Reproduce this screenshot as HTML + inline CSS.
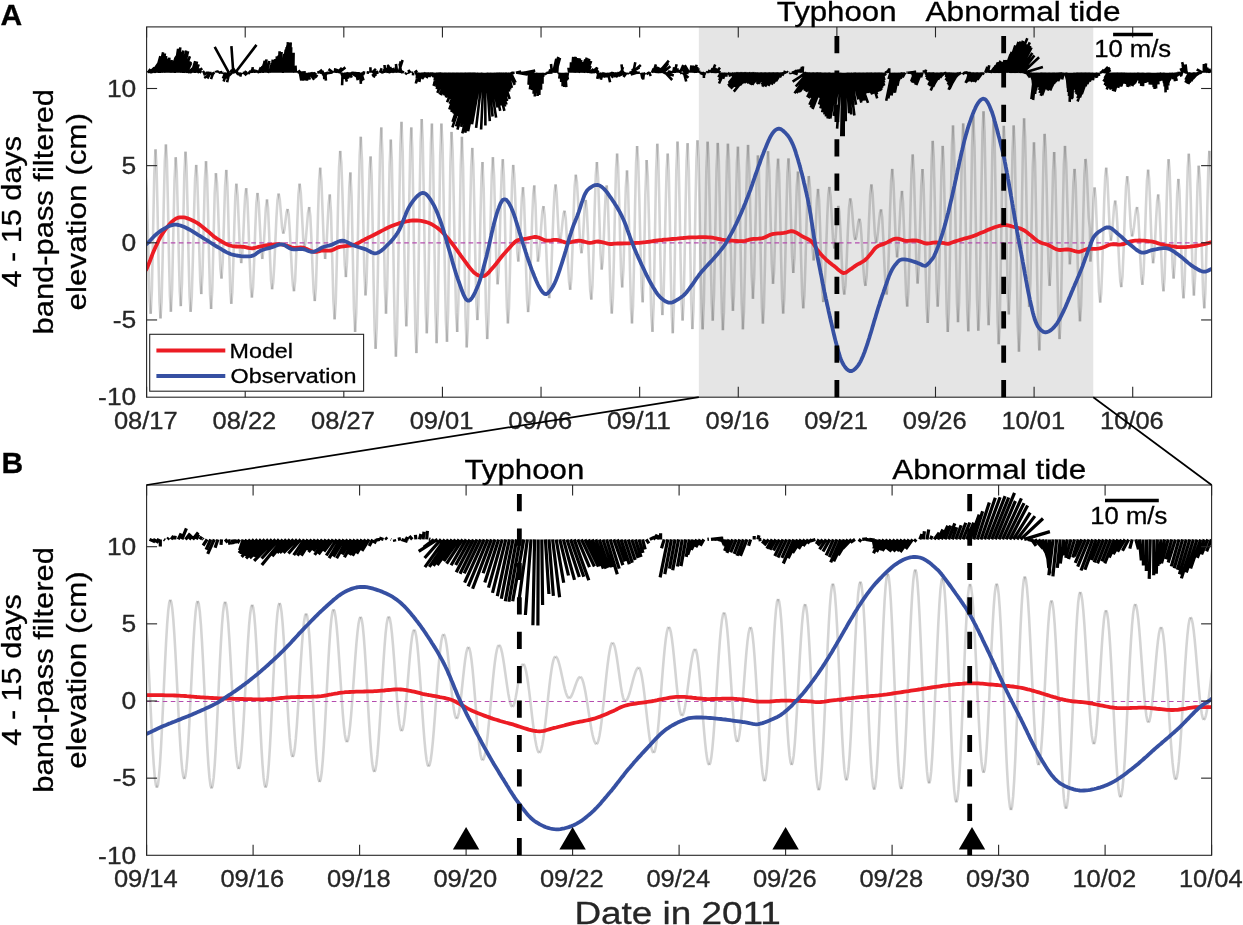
<!DOCTYPE html><html><head><meta charset="utf-8"><style>html,body{margin:0;padding:0;background:#fff;overflow:hidden}svg{display:block;will-change:transform}text{stroke-width:0.3px}</style></head><body><svg width="1243" height="925" viewBox="0 0 1243 925" font-family="Liberation Sans, sans-serif">
<rect width="1243" height="925" fill="#fff"/>
<rect x="698.82" y="26.9" width="394.44" height="370.3" fill="#e5e5e5"/>
<defs><clipPath id="ca"><rect x="146.6" y="26.9" width="1065.0" height="370.3"/></clipPath><clipPath id="cb"><rect x="146.6" y="485.0" width="1065.0" height="370.29999999999995"/></clipPath></defs>
<g clip-path="url(#ca)">
<g fill="none" stroke="#000" stroke-opacity="0.17" stroke-width="2.6">
<path d="M145.60,175.00 L146.62,188.25 L147.64,222.95 L148.66,265.85 L149.68,300.55 L150.70,313.80"/>
<path d="M150.70,313.80 L151.90,289.71 L153.10,231.55 L154.30,173.39 L155.50,149.30"/>
<path d="M155.50,149.30 L156.50,165.46 L157.50,207.76 L158.50,260.04 L159.50,302.34 L160.50,318.50"/>
<path d="M160.50,318.50 L161.58,301.87 L162.66,258.32 L163.74,204.48 L164.82,160.93 L165.90,144.30"/>
<path d="M165.90,144.30 L166.90,160.29 L167.90,202.17 L168.90,253.93 L169.90,295.81 L170.90,311.80"/>
<path d="M170.90,311.80 L172.10,289.16 L173.30,234.50 L174.50,179.84 L175.70,157.20"/>
<path d="M175.70,157.20 L176.72,171.43 L177.74,208.68 L178.76,254.72 L179.78,291.97 L180.80,306.20"/>
<path d="M180.80,306.20 L181.97,283.56 L183.15,228.90 L184.32,174.24 L185.50,151.60"/>
<path d="M185.50,151.60 L186.52,166.90 L187.54,206.95 L188.56,256.45 L189.58,296.50 L190.60,311.80"/>
<path d="M190.60,311.80 L191.72,297.76 L192.84,261.01 L193.96,215.59 L195.08,178.84 L196.20,164.80"/>
<path d="M196.20,164.80 L197.22,177.15 L198.24,209.47 L199.26,249.43 L200.28,281.75 L201.30,294.10"/>
<path d="M201.30,294.10 L202.48,274.64 L203.65,227.65 L204.82,180.66 L206.00,161.20"/>
<path d="M206.00,161.20 L207.02,175.31 L208.04,212.26 L209.06,257.94 L210.08,294.89 L211.10,309.00"/>
<path d="M211.10,309.00 L212.30,289.11 L213.50,241.10 L214.70,193.09 L215.90,173.20"/>
<path d="M215.90,173.20 L217.02,183.26 L218.14,209.61 L219.26,242.19 L220.38,268.54 L221.50,278.60"/>
<path d="M221.50,278.60 L222.70,262.68 L223.90,224.25 L225.10,185.82 L226.30,169.90"/>
<path d="M226.30,169.90 L227.30,182.70 L228.30,216.20 L229.30,257.60 L230.30,291.10 L231.30,303.90"/>
<path d="M231.30,303.90 L232.32,292.41 L233.34,262.34 L234.36,225.16 L235.38,195.09 L236.40,183.60"/>
<path d="M236.40,183.60 L237.60,195.26 L238.80,223.40 L240.00,251.54 L241.20,263.20"/>
<path d="M241.20,263.20 L242.20,256.03 L243.20,237.25 L244.20,214.05 L245.20,195.27 L246.20,188.10"/>
<path d="M246.20,188.10 L247.34,198.57 L248.48,225.97 L249.62,259.83 L250.76,287.23 L251.90,297.70"/>
<path d="M251.90,297.70 L253.02,287.69 L254.14,261.49 L255.26,229.11 L256.38,202.91 L257.50,192.90"/>
<path d="M257.50,192.90 L258.70,202.58 L259.90,225.95 L261.10,249.32 L262.30,259.00"/>
<path d="M262.30,259.00 L263.48,250.27 L264.65,229.20 L265.82,208.13 L267.00,199.40"/>
<path d="M267.00,199.40 L268.02,207.98 L269.04,230.46 L270.06,258.24 L271.08,280.72 L272.10,289.30"/>
<path d="M272.10,289.30 L273.18,282.88 L274.27,265.35 L275.35,241.40 L276.43,217.45 L277.52,199.92 L278.60,193.50"/>
<path d="M278.60,193.50 L279.77,199.39 L280.95,213.60 L282.12,227.81 L283.30,233.70"/>
<path d="M283.30,233.70 L284.38,230.07 L285.45,221.30 L286.52,212.53 L287.60,208.90"/>
<path d="M287.60,208.90 L288.67,214.42 L289.73,229.50 L290.80,250.10 L291.87,270.70 L292.93,285.78 L294.00,291.30"/>
<path d="M294.00,291.30 L295.12,281.02 L296.24,254.09 L297.36,220.81 L298.48,193.88 L299.60,183.60"/>
<path d="M299.60,183.60 L300.80,192.99 L302.00,215.65 L303.20,238.31 L304.40,247.70"/>
<path d="M304.40,247.70 L305.60,241.74 L306.80,227.35 L308.00,212.96 L309.20,207.00"/>
<path d="M309.20,207.00 L310.32,215.99 L311.44,239.51 L312.56,268.59 L313.68,292.11 L314.80,301.10"/>
<path d="M314.80,301.10 L315.88,288.35 L316.96,254.98 L318.04,213.72 L319.12,180.35 L320.20,167.60"/>
<path d="M320.20,167.60 L321.42,180.99 L322.65,213.30 L323.88,245.61 L325.10,259.00"/>
<path d="M325.10,259.00 L326.28,249.52 L327.45,226.65 L328.62,203.78 L329.80,194.30"/>
<path d="M329.80,194.30 L331.00,212.62 L332.20,256.85 L333.40,301.08 L334.60,319.40"/>
<path d="M334.60,319.40 L335.72,303.30 L336.84,261.15 L337.96,209.05 L339.08,166.90 L340.20,150.80"/>
<path d="M340.20,150.80 L341.34,162.87 L342.48,194.47 L343.62,233.53 L344.76,265.13 L345.90,277.20"/>
<path d="M345.90,277.20 L347.02,261.85 L348.15,224.80 L349.27,187.75 L350.40,172.40"/>
<path d="M350.40,172.40 L351.57,195.77 L352.75,252.20 L353.93,308.63 L355.10,332.00"/>
<path d="M355.10,332.00 L356.24,313.35 L357.38,264.53 L358.52,204.17 L359.66,155.35 L360.80,136.70"/>
<path d="M360.80,136.70 L361.98,159.96 L363.15,216.10 L364.32,272.24 L365.50,295.50"/>
<path d="M365.50,295.50 L366.52,282.22 L367.54,247.44 L368.56,204.46 L369.58,169.68 L370.60,156.40"/>
<path d="M370.60,156.40 L371.60,174.78 L372.60,222.91 L373.60,282.39 L374.60,330.52 L375.60,348.90"/>
<path d="M375.60,348.90 L376.74,327.75 L377.88,272.37 L379.02,203.93 L380.16,148.55 L381.30,127.40"/>
<path d="M381.30,127.40 L382.48,154.70 L383.65,220.60 L384.83,286.50 L386.00,313.80"/>
<path d="M386.00,313.80 L387.20,288.27 L388.40,226.65 L389.60,165.03 L390.80,139.50"/>
<path d="M390.80,139.50 L391.82,160.25 L392.84,214.58 L393.86,281.72 L394.88,336.05 L395.90,356.80"/>
<path d="M395.90,356.80 L397.02,334.36 L398.14,275.61 L399.26,202.99 L400.38,144.24 L401.50,121.80"/>
<path d="M401.50,121.80 L402.70,151.76 L403.90,224.10 L405.10,296.44 L406.30,326.40"/>
<path d="M406.30,326.40 L407.30,307.40 L408.30,257.65 L409.30,196.15 L410.30,146.40 L411.30,127.40"/>
<path d="M411.30,127.40 L412.32,148.95 L413.34,205.38 L414.36,275.12 L415.38,331.55 L416.40,353.10"/>
<path d="M416.40,353.10 L417.46,330.75 L418.52,272.22 L419.58,199.88 L420.64,141.35 L421.70,119.00"/>
<path d="M421.70,119.00 L422.72,139.47 L423.74,193.07 L424.76,259.33 L425.78,312.93 L426.80,333.40"/>
<path d="M426.80,333.40 L427.82,313.36 L428.84,260.88 L429.86,196.02 L430.88,143.54 L431.90,123.50"/>
<path d="M431.90,123.50 L433.07,155.69 L434.25,233.40 L435.42,311.11 L436.60,343.30"/>
<path d="M436.60,343.30 L437.80,311.11 L439.00,233.40 L440.20,155.69 L441.40,123.50"/>
<path d="M441.40,123.50 L442.52,144.36 L443.64,198.96 L444.76,266.44 L445.88,321.04 L447.00,341.90"/>
<path d="M447.00,341.90 L448.12,311.15 L449.25,236.90 L450.38,162.65 L451.50,131.90"/>
<path d="M451.50,131.90 L452.64,151.01 L453.78,201.03 L454.92,262.87 L456.06,312.89 L457.20,332.00"/>
<path d="M457.20,332.00 L458.38,303.40 L459.55,234.35 L460.73,165.30 L461.90,136.70"/>
<path d="M461.90,136.70 L463.10,167.57 L464.30,242.10 L465.50,316.63 L466.70,347.50"/>
<path d="M466.70,347.50 L467.82,328.44 L468.94,278.54 L470.06,216.86 L471.18,166.96 L472.30,147.90"/>
<path d="M472.30,147.90 L473.32,164.35 L474.34,207.43 L475.36,260.67 L476.38,303.75 L477.40,320.20"/>
<path d="M477.40,320.20 L478.42,305.09 L479.44,265.54 L480.46,216.66 L481.48,177.11 L482.50,162.00"/>
<path d="M482.50,162.00 L483.67,187.94 L484.85,250.55 L486.02,313.16 L487.20,339.10"/>
<path d="M487.20,339.10 L488.34,321.73 L489.48,276.26 L490.62,220.04 L491.76,174.57 L492.90,157.20"/>
<path d="M492.90,157.20 L494.08,175.81 L495.25,220.75 L496.42,265.69 L497.60,284.30"/>
<path d="M497.60,284.30 L498.64,272.35 L499.68,241.08 L500.72,202.42 L501.76,171.15 L502.80,159.20"/>
<path d="M502.80,159.20 L503.82,174.89 L504.84,215.96 L505.86,266.74 L506.88,307.81 L507.90,323.50"/>
<path d="M507.90,323.50 L508.96,308.35 L510.02,268.67 L511.08,219.63 L512.14,179.95 L513.20,164.80"/>
<path d="M513.20,164.80 L514.22,174.05 L515.24,198.28 L516.26,228.22 L517.28,252.45 L518.30,261.70"/>
<path d="M518.30,261.70 L519.47,250.79 L520.65,224.45 L521.82,198.11 L523.00,187.20"/>
<path d="M523.00,187.20 L524.02,199.14 L525.04,230.39 L526.06,269.01 L527.08,300.26 L528.10,312.20"/>
<path d="M528.10,312.20 L529.13,303.70 L530.17,280.48 L531.20,248.75 L532.23,217.03 L533.27,193.80 L534.30,185.30"/>
<path d="M534.30,185.30 L535.50,204.40 L536.70,242.60 L537.90,261.70"/>
<path d="M537.90,261.70 L539.02,256.39 L540.14,242.49 L541.26,225.31 L542.38,211.41 L543.50,206.10"/>
<path d="M543.50,206.10 L544.64,214.89 L545.78,237.92 L546.92,266.38 L548.06,289.41 L549.20,298.20"/>
<path d="M549.20,298.20 L550.27,290.58 L551.33,269.75 L552.40,241.30 L553.47,212.85 L554.53,192.02 L555.60,184.40"/>
<path d="M555.60,184.40 L556.60,192.84 L557.60,213.20 L558.60,233.56 L559.60,242.00"/>
<path d="M559.60,242.00 L560.60,239.00 L561.60,231.15 L562.60,221.45 L563.60,213.60 L564.60,210.60"/>
<path d="M564.60,210.60 L565.72,218.16 L566.84,237.96 L567.96,262.44 L569.08,282.24 L570.20,289.80"/>
<path d="M570.20,289.80 L571.32,278.80 L572.44,250.00 L573.56,214.40 L574.68,185.60 L575.80,174.60"/>
<path d="M575.80,174.60 L576.94,182.12 L578.08,201.79 L579.22,226.11 L580.36,245.78 L581.50,253.30"/>
<path d="M581.50,253.30 L582.55,245.48 L583.60,226.60 L584.65,207.72 L585.70,199.90"/>
<path d="M585.70,199.90 L586.82,209.42 L587.94,234.35 L589.06,265.15 L590.18,290.08 L591.30,299.60"/>
<path d="M591.30,299.60 L592.42,286.46 L593.54,252.06 L594.66,209.54 L595.78,175.14 L596.90,162.00"/>
<path d="M596.90,162.00 L598.10,177.76 L599.30,215.80 L600.50,253.84 L601.70,269.60"/>
<path d="M601.70,269.60 L602.70,261.55 L603.70,240.48 L604.70,214.42 L605.70,193.35 L606.70,185.30"/>
<path d="M606.70,185.30 L607.72,197.56 L608.74,229.66 L609.76,269.34 L610.78,301.44 L611.80,313.70"/>
<path d="M611.80,313.70 L612.86,298.40 L613.92,258.35 L614.98,208.85 L616.04,168.80 L617.10,153.50"/>
<path d="M617.10,153.50 L618.12,166.30 L619.14,199.80 L620.16,241.20 L621.18,274.70 L622.20,287.50"/>
<path d="M622.20,287.50 L623.40,270.35 L624.60,228.95 L625.80,187.55 L627.00,170.40"/>
<path d="M627.00,170.40 L628.00,185.02 L629.00,223.29 L630.00,270.61 L631.00,308.88 L632.00,323.50"/>
<path d="M632.00,323.50 L633.02,306.55 L634.04,262.18 L635.06,207.32 L636.08,162.95 L637.10,146.00"/>
<path d="M637.10,146.00 L638.22,160.93 L639.34,200.03 L640.46,248.37 L641.58,287.47 L642.70,302.40"/>
<path d="M642.70,302.40 L644.00,266.80 L645.30,195.60 L646.60,160.00"/>
<path d="M646.60,160.00 L647.78,176.41 L648.96,219.39 L650.14,272.51 L651.32,315.49 L652.50,331.90"/>
<path d="M652.50,331.90 L653.70,304.34 L654.90,237.80 L656.10,171.26 L657.30,143.70"/>
<path d="M657.30,143.70 L658.32,160.07 L659.34,202.92 L660.36,255.88 L661.38,298.73 L662.40,315.10"/>
<path d="M662.40,315.10 L663.46,299.67 L664.52,259.27 L665.58,209.33 L666.64,168.93 L667.70,153.50"/>
<path d="M667.70,153.50 L668.72,170.67 L669.74,215.62 L670.76,271.18 L671.78,316.13 L672.80,333.30"/>
<path d="M672.80,333.30 L673.98,305.21 L675.15,237.40 L676.32,169.59 L677.50,141.50"/>
<path d="M677.50,141.50 L678.52,158.61 L679.54,203.41 L680.56,258.79 L681.58,303.59 L682.60,320.70"/>
<path d="M682.60,320.70 L683.60,303.74 L684.60,259.34 L685.60,204.46 L686.60,160.06 L687.60,143.10"/>
<path d="M687.60,143.10 L688.80,170.34 L690.00,236.10 L691.20,301.86 L692.40,329.10"/>
<path d="M692.40,329.10 L693.42,311.07 L694.44,263.87 L695.46,205.53 L696.48,158.33 L697.50,140.30"/>
<path d="M697.50,140.30 L698.53,158.36 L699.55,205.63 L700.58,264.07 L701.61,311.34 L702.64,329.40"/>
<path d="M702.64,329.40 L703.88,301.90 L705.12,235.50 L706.36,169.10 L707.60,141.60"/>
<path d="M707.60,141.60 L708.64,158.70 L709.67,203.48 L710.71,258.82 L711.75,303.60 L712.79,320.70"/>
<path d="M712.79,320.70 L714.03,294.66 L715.27,231.80 L716.51,168.94 L717.75,142.90"/>
<path d="M717.75,142.90 L718.78,160.79 L719.81,207.61 L720.84,265.49 L721.87,312.31 L722.90,330.20"/>
<path d="M722.90,330.20 L723.90,312.38 L724.90,265.73 L725.90,208.07 L726.90,161.42 L727.90,143.60"/>
<path d="M727.90,143.60 L728.90,159.57 L729.91,201.37 L730.92,253.03 L731.93,294.83 L732.93,310.80"/>
<path d="M732.93,310.80 L733.93,295.12 L734.93,254.07 L735.93,203.33 L736.93,162.28 L737.93,146.60"/>
<path d="M737.93,146.60 L739.17,173.37 L740.41,238.00 L741.66,302.63 L742.90,329.40"/>
<path d="M742.90,329.40 L743.93,311.78 L744.96,265.66 L745.99,208.64 L747.01,162.52 L748.04,144.90"/>
<path d="M748.04,144.90 L749.27,167.44 L750.49,221.85 L751.71,276.26 L752.93,298.80"/>
<path d="M752.93,298.80 L754.17,277.78 L755.41,227.05 L756.66,176.32 L757.90,155.30"/>
<path d="M757.90,155.30 L758.90,171.38 L759.90,213.48 L760.90,265.52 L761.90,307.62 L762.90,323.70"/>
<path d="M762.90,323.70 L763.93,307.22 L764.96,264.07 L765.99,210.73 L767.01,167.58 L768.04,151.10"/>
<path d="M768.04,151.10 L769.29,170.55 L770.53,217.50 L771.77,264.45 L773.01,283.90"/>
<path d="M773.01,283.90 L774.02,271.93 L775.04,240.61 L776.05,201.89 L777.07,170.57 L778.08,158.60"/>
<path d="M778.08,158.60 L779.10,173.41 L780.11,212.19 L781.13,260.11 L782.14,298.89 L783.16,313.70"/>
<path d="M783.16,313.70 L784.22,298.86 L785.29,260.01 L786.36,211.99 L787.42,173.14 L788.49,158.30"/>
<path d="M788.49,158.30 L789.68,175.10 L790.88,215.65 L792.07,256.20 L793.27,273.00"/>
<path d="M793.27,273.00 L794.43,258.14 L795.60,222.25 L796.77,186.36 L797.93,171.50"/>
<path d="M797.93,171.50 L799.00,184.56 L800.07,218.76 L801.13,261.04 L802.20,295.24 L803.27,308.30"/>
<path d="M803.27,308.30 L804.37,295.67 L805.47,262.59 L806.58,221.71 L807.68,188.63 L808.79,176.00"/>
<path d="M808.79,176.00 L810.01,188.37 L811.23,218.25 L812.45,248.13 L813.67,260.50"/>
<path d="M813.67,260.50 L814.76,250.01 L815.84,224.70 L816.92,199.39 L818.01,188.90"/>
<path d="M818.01,188.90 L819.06,199.71 L820.11,228.01 L821.16,262.99 L822.21,291.29 L823.27,302.10"/>
<path d="M823.27,302.10 L824.28,294.38 L825.29,273.30 L826.30,244.50 L827.32,215.70 L828.33,194.62 L829.34,186.90"/>
<path d="M829.34,186.90 L830.58,195.94 L831.82,217.75 L833.06,239.56 L834.30,248.60"/>
<path d="M834.30,248.60 L835.62,237.90 L836.95,216.50 L838.27,205.80"/>
<path d="M838.27,205.80 L839.27,211.75 L840.27,228.00 L841.27,250.20 L842.27,272.40 L843.27,288.65 L844.27,294.60"/>
<path d="M844.27,294.60 L845.46,285.40 L846.65,261.33 L847.84,231.57 L849.04,207.50 L850.23,198.30"/>
<path d="M850.23,198.30 L851.24,202.27 L852.26,212.67 L853.27,225.53 L854.29,235.93 L855.30,239.90"/>
<path d="M855.30,239.90 L856.34,236.80 L857.38,229.30 L858.41,221.80 L859.45,218.70"/>
<path d="M859.45,218.70 L860.45,223.20 L861.45,235.50 L862.45,252.30 L863.45,269.10 L864.45,281.40 L865.45,285.90"/>
<path d="M865.45,285.90 L866.64,276.21 L867.84,250.83 L869.03,219.47 L870.22,194.09 L871.41,184.40"/>
<path d="M871.41,184.40 L872.57,193.00 L873.73,213.75 L874.89,234.50 L876.04,243.10"/>
<path d="M876.04,243.10 L877.05,239.87 L878.06,231.42 L879.07,220.98 L880.07,212.53 L881.08,209.30"/>
<path d="M881.08,209.30 L882.19,217.45 L883.30,238.77 L884.41,265.13 L885.53,286.45 L886.64,294.60"/>
<path d="M886.64,294.60 L887.76,282.59 L888.87,251.14 L889.99,212.26 L891.11,180.81 L892.23,168.80"/>
<path d="M892.23,168.80 L893.44,181.79 L894.66,213.15 L895.87,244.51 L897.08,257.50"/>
<path d="M897.08,257.50 L898.30,247.75 L899.53,224.20 L900.75,200.65 L901.97,190.90"/>
<path d="M901.97,190.90 L903.01,201.96 L904.06,230.91 L905.10,266.69 L906.15,295.64 L907.19,306.70"/>
<path d="M907.19,306.70 L908.30,292.15 L909.40,254.05 L910.50,206.95 L911.61,168.85 L912.71,154.30"/>
<path d="M912.71,154.30 L913.93,173.25 L915.16,219.00 L916.38,264.75 L917.60,283.70"/>
<path d="M917.60,283.70 L918.82,266.90 L920.04,226.35 L921.27,185.80 L922.49,169.00"/>
<path d="M922.49,169.00 L923.53,183.71 L924.58,222.21 L925.62,269.79 L926.67,308.29 L927.71,323.00"/>
<path d="M927.71,323.00 L928.71,305.60 L929.71,260.05 L930.71,203.75 L931.71,158.20 L932.71,140.80"/>
<path d="M932.71,140.80 L933.71,156.64 L934.71,198.12 L935.71,249.38 L936.71,290.86 L937.71,306.70"/>
<path d="M937.71,306.70 L938.96,283.15 L940.21,226.30 L941.46,169.45 L942.71,145.90"/>
<path d="M942.71,145.90 L943.73,163.67 L944.74,210.20 L945.76,267.70 L946.77,314.23 L947.79,332.00"/>
<path d="M947.79,332.00 L948.83,312.27 L949.87,260.62 L950.92,196.78 L951.96,145.13 L953.01,125.40"/>
<path d="M953.01,125.40 L954.01,144.19 L955.01,193.39 L956.01,254.21 L957.01,303.41 L958.01,322.20"/>
<path d="M958.01,322.20 L959.04,303.22 L960.08,253.52 L961.12,192.08 L962.16,142.38 L963.19,123.40"/>
<path d="M963.19,123.40 L964.21,143.26 L965.24,195.26 L966.26,259.54 L967.28,311.54 L968.30,331.40"/>
<path d="M968.30,331.40 L969.55,299.78 L970.80,223.45 L972.05,147.12 L973.30,115.50"/>
<path d="M973.30,115.50 L974.55,147.03 L975.80,223.15 L977.05,299.27 L978.30,330.80"/>
<path d="M978.30,330.80 L979.35,309.84 L980.39,254.96 L981.44,187.14 L982.48,132.26 L983.53,111.30"/>
<path d="M983.53,111.30 L984.55,131.73 L985.57,185.20 L986.59,251.30 L987.61,304.77 L988.64,325.20"/>
<path d="M988.64,325.20 L989.88,295.11 L991.12,222.45 L992.36,149.79 L993.60,119.70"/>
<path d="M993.60,119.70 L994.62,141.14 L995.64,197.26 L996.67,266.64 L997.69,322.76 L998.71,344.20"/>
<path d="M998.71,344.20 L999.73,323.34 L1000.74,268.74 L1001.76,201.26 L1002.77,146.66 L1003.79,125.80"/>
<path d="M1003.79,125.80 L1004.79,143.82 L1005.80,190.99 L1006.81,249.31 L1007.81,296.48 L1008.82,314.50"/>
<path d="M1008.82,314.50 L1010.04,286.81 L1011.25,219.95 L1012.46,153.09 L1013.67,125.40"/>
<path d="M1013.67,125.40 L1014.73,147.02 L1015.79,203.62 L1016.85,273.58 L1017.91,330.18 L1018.97,351.80"/>
<path d="M1018.97,351.80 L1019.99,329.50 L1021.01,271.13 L1022.04,198.97 L1023.06,140.60 L1024.08,118.30"/>
<path d="M1024.08,118.30 L1025.10,136.31 L1026.13,183.46 L1027.15,241.74 L1028.17,288.89 L1029.19,306.90"/>
<path d="M1029.19,306.90 L1030.39,282.78 L1031.58,224.55 L1032.78,166.32 L1033.97,142.20"/>
<path d="M1033.97,142.20 L1035.04,162.09 L1036.12,214.17 L1037.19,278.53 L1038.27,330.61 L1039.34,350.50"/>
<path d="M1039.34,350.50 L1040.39,329.81 L1041.44,275.63 L1042.50,208.67 L1043.55,154.49 L1044.60,133.80"/>
<path d="M1044.60,133.80 L1045.61,148.32 L1046.63,186.35 L1047.64,233.35 L1048.66,271.38 L1049.67,285.90"/>
<path d="M1049.67,285.90 L1050.79,266.29 L1051.91,218.95 L1053.04,171.61 L1054.16,152.00"/>
<path d="M1054.16,152.00 L1055.23,169.87 L1056.30,216.64 L1057.38,274.46 L1058.45,321.23 L1059.53,339.10"/>
<path d="M1059.53,339.10 L1060.61,320.65 L1061.70,272.35 L1062.79,212.65 L1063.88,164.35 L1064.97,145.90"/>
<path d="M1064.97,145.90 L1066.19,163.24 L1067.41,205.10 L1068.64,246.96 L1069.86,264.30"/>
<path d="M1069.86,264.30 L1071.04,250.33 L1072.21,216.60 L1073.39,182.87 L1074.56,168.90"/>
<path d="M1074.56,168.90 L1075.64,183.46 L1076.73,221.59 L1077.81,268.71 L1078.89,306.84 L1079.97,321.40"/>
<path d="M1079.97,321.40 L1079.98,321.28 L1079.99,321.02 L1080.00,320.90"/>
<path d="M1080.00,320.90 L1081.10,305.45 L1082.20,265.00 L1083.29,215.00 L1084.39,174.55 L1085.49,159.10"/>
<path d="M1085.49,159.10 L1085.53,159.12 L1085.56,159.17 L1085.60,159.20"/>
<path d="M1085.60,159.20 L1086.65,169.29 L1087.70,193.65 L1088.75,218.01 L1089.80,228.10"/>
<path d="M1089.80,228.10 L1089.99,236.47 L1090.19,253.22 L1090.38,261.60"/>
<path d="M1090.38,261.60 L1091.43,250.72 L1092.49,224.45 L1093.54,198.18 L1094.60,187.30"/>
<path d="M1094.60,187.30 L1095.72,198.31 L1096.84,227.14 L1097.96,262.76 L1099.08,291.59 L1100.20,302.60"/>
<path d="M1100.20,302.60 L1101.20,293.56 L1102.20,268.85 L1103.20,235.10 L1104.20,201.35 L1105.20,176.64 L1106.20,167.60"/>
<path d="M1106.20,167.60 L1107.38,178.32 L1108.55,204.20 L1109.73,230.08 L1110.90,240.80"/>
<path d="M1110.90,240.80 L1111.97,234.91 L1113.05,220.70 L1114.12,206.49 L1115.20,200.60"/>
<path d="M1115.20,200.60 L1116.22,206.40 L1117.23,222.25 L1118.25,243.90 L1119.27,265.55 L1120.28,281.40 L1121.30,287.20"/>
<path d="M1121.30,287.20 L1122.48,276.59 L1123.66,248.82 L1124.84,214.48 L1126.02,186.71 L1127.20,176.10"/>
<path d="M1127.20,176.10 L1128.40,184.95 L1129.60,206.30 L1130.80,227.65 L1132.00,236.50"/>
<path d="M1132.00,236.50 L1133.02,233.68 L1134.04,226.31 L1135.06,217.19 L1136.08,209.82 L1137.10,207.00"/>
<path d="M1137.10,207.00 L1138.16,214.44 L1139.22,233.91 L1140.28,257.99 L1141.34,277.46 L1142.40,284.90"/>
<path d="M1142.40,284.90 L1143.54,273.89 L1144.68,245.06 L1145.82,209.44 L1146.96,180.61 L1148.10,169.60"/>
<path d="M1148.10,169.60 L1149.10,178.55 L1150.10,201.97 L1151.10,230.93 L1152.10,254.35 L1153.10,263.30"/>
<path d="M1153.10,263.30 L1154.12,256.72 L1155.14,239.50 L1156.16,218.20 L1157.18,200.98 L1158.20,194.40"/>
<path d="M1158.20,194.40 L1159.26,203.66 L1160.32,227.91 L1161.38,257.89 L1162.44,282.14 L1163.50,291.40"/>
<path d="M1163.50,291.40 L1164.52,278.78 L1165.54,245.73 L1166.56,204.87 L1167.58,171.82 L1168.60,159.20"/>
<path d="M1168.60,159.20 L1169.60,170.61 L1170.60,200.49 L1171.60,237.41 L1172.60,267.29 L1173.60,278.70"/>
<path d="M1173.60,278.70 L1174.80,264.08 L1176.00,228.80 L1177.20,193.52 L1178.40,178.90"/>
<path d="M1178.40,178.90 L1179.42,190.31 L1180.44,220.19 L1181.46,257.11 L1182.48,286.99 L1183.50,298.40"/>
<path d="M1183.50,298.40 L1184.56,284.57 L1185.62,248.37 L1186.68,203.63 L1187.74,167.43 L1188.80,153.60"/>
<path d="M1188.80,153.60 L1189.82,167.16 L1190.84,202.66 L1191.86,246.54 L1192.88,282.04 L1193.90,295.60"/>
<path d="M1193.90,295.60 L1195.10,276.58 L1196.30,230.65 L1197.50,184.72 L1198.70,165.70"/>
<path d="M1198.70,165.70 L1199.82,179.32 L1200.94,214.97 L1202.06,259.03 L1203.18,294.68 L1204.30,308.30"/>
<path d="M1204.30,308.30 L1205.32,293.26 L1206.34,253.89 L1207.36,205.21 L1208.38,165.84 L1209.40,150.80"/>
<path d="M1209.40,150.80 L1210.55,172.65 L1211.70,225.40 L1212.85,278.15 L1214.00,300.00"/>
<path d="M1214.00,300.00 L1215.00,287.59 L1216.00,255.09 L1217.00,214.91 L1218.00,182.41 L1219.00,170.00"/>
</g>
<line x1="146.6" y1="242.9" x2="1211.6" y2="242.9" stroke="#b44cae" stroke-width="1.2" stroke-dasharray="4.6 3.45"/>
<path d="M146.6,72.7l-3.1,-5.6M147.9,72.7l2.6,-3.6M149.3,72.7l5.2,-5.0M150.6,72.7l7.4,-7.3M151.9,72.7l6.2,-9.0M153.3,72.7l5.7,-9.5M154.6,72.7l5.6,-14.0M155.9,72.7l4.5,-16.6M157.3,72.7l3.7,-15.7M158.6,72.7l4.5,-20.4M159.9,72.7l3.6,-19.2M161.3,72.7l2.6,-17.4M162.6,72.7l2.3,-19.3M163.9,72.7l2.3,-16.7M165.3,72.7l1.5,-14.4M166.6,72.7l0.6,-14.3M167.9,72.7l1.5,-15.1M169.3,72.7l2.6,-12.7M170.6,72.7l5.2,-15.5M171.9,72.7l3.7,-13.7M173.3,72.7l3.2,-16.6M174.6,72.7l3.5,-23.8M175.9,72.7l3.0,-23.9M177.3,72.7l3.0,-25.4M178.6,72.7l2.4,-21.0M179.9,72.7l3.3,-22.2M181.3,72.7l4.9,-22.2M182.6,72.7l5.5,-21.5M183.9,72.7l6.0,-16.5M185.3,72.7l5.6,-11.0M186.6,72.7l4.6,-9.7M187.9,72.7l6.5,-5.8M189.3,72.7l7.5,-6.9M190.6,72.7l5.6,-6.9M191.9,72.7l3.3,-11.5M193.3,72.7l2.2,-11.1M194.6,72.7l2.4,-11.2M195.9,72.7l2.8,-8.3M197.3,72.7l4.9,-4.4M198.6,72.7l0.6,-4.2M199.9,72.7l0.1,-4.6M201.3,72.7l-4.8,-4.5M202.6,72.7l2.0,-1.4M203.9,72.7l1.2,2.7M205.3,72.7l4.7,2.0M206.6,72.7l1.8,0.0M207.9,72.7l3.6,0.3M209.3,72.7l-2.8,0.1M210.6,72.7l-3.3,5.8M211.9,72.7l-7.7,5.3M213.3,72.7l-2.3,6.4M214.6,72.7l-3.2,1.8M215.9,72.7l0.2,-1.8M217.3,72.7l0.6,-2.3M218.6,72.7l3.6,-0.6M219.9,72.7l0.7,-0.0M221.3,72.7l1.2,-0.4M222.6,72.7l0.8,0.2M223.9,72.7l1.8,3.8M225.3,72.7l-2.4,5.8M226.6,72.7l-3.0,8.8M227.9,72.7l-0.4,6.4M229.3,72.7l-2.2,9.6M230.6,72.7l-1.0,2.0M231.9,72.7l-3.9,3.8M233.3,72.7l-2.3,-3.1M234.6,72.7l-4.5,-2.1M235.9,72.7l-3.1,-4.9M237.3,72.7l-1.1,-2.2M238.6,72.7l-2.2,1.5M239.9,72.7l-1.5,2.8M241.3,72.7l-1.1,4.0M242.6,72.7l2.5,0.6M243.9,72.7l2.7,2.6M245.3,72.7l0.9,-1.8M246.6,72.7l1.0,1.8M247.9,72.7l2.2,0.6M249.3,72.7l1.4,-1.9M250.6,72.7l1.8,-3.4M251.9,72.7l0.9,-5.6M253.3,72.7l0.8,-3.4M254.6,72.7l0.3,-1.9M255.9,72.7l0.8,-2.9M257.3,72.7l2.6,-2.0M258.6,72.7l2.3,-5.4M259.9,72.7l2.7,-6.4M261.3,72.7l2.6,-8.7M262.6,72.7l1.9,-10.9M263.9,72.7l0.9,-12.1M265.3,72.7l1.2,-13.4M266.6,72.7l2.8,-11.7M267.9,72.7l5.2,-8.0M269.3,72.7l2.0,-7.3M270.6,72.7l1.1,-9.5M271.9,72.7l0.8,-13.1M273.3,72.7l1.4,-11.3M274.6,72.7l0.6,-13.6M275.9,72.7l1.0,-16.4M277.3,72.7l1.3,-17.0M278.6,72.7l1.0,-21.4M279.9,72.7l1.7,-20.8M281.3,72.7l3.1,-18.8M282.6,72.7l3.2,-23.0M283.9,72.7l2.8,-25.6M285.3,72.7l2.1,-26.8M286.6,72.7l1.3,-30.6M287.9,72.7l1.1,-29.8M289.3,72.7l1.4,-30.3M290.6,72.7l0.6,-25.6M291.9,72.7l0.2,-19.0M293.3,72.7l0.3,-20.0M294.6,72.7l-2.3,-10.0M295.9,72.7l-0.4,-7.1M297.3,72.7l3.1,-2.0M298.6,72.7l7.2,-0.3M299.9,72.7l1.4,7.9M301.3,72.7l0.0,7.3M302.6,72.7l0.1,8.1M303.9,72.7l0.6,7.8M305.3,72.7l-0.2,7.8M306.6,72.7l0.4,8.0M307.9,72.7l1.9,7.0M309.3,72.7l4.9,7.1M310.6,72.7l5.9,5.0M311.9,72.7l5.7,3.9M313.3,72.7l1.3,1.5M314.6,72.7l-2.0,2.7M315.9,72.7l-1.3,2.1M317.3,72.7l1.9,-0.7M318.6,72.7l3.5,-2.9M319.9,72.7l4.1,-1.0M321.3,72.7l-0.4,1.0M322.6,72.7l0.5,2.4M323.9,72.7l0.4,6.4M325.3,72.7l0.6,7.9M326.6,72.7l-2.4,6.4M327.9,72.7l-6.0,1.9M329.3,72.7l-6.2,1.4M330.6,72.7l-6.9,0.9M331.9,72.7l-2.3,-0.2M333.3,72.7l-4.8,-3.6M334.6,72.7l0.8,-4.4M335.9,72.7l1.8,-3.7M337.3,72.7l4.6,-4.9M338.6,72.7l6.8,-5.3M339.9,72.7l1.3,-0.8M341.3,72.7l2.3,6.6M342.6,72.7l-0.5,12.5M343.9,72.7l3.0,8.9M345.3,72.7l3.3,6.0M346.6,72.7l3.6,3.7M347.9,72.7l2.6,4.1M349.2,72.7l2.6,5.0M350.6,72.7l6.1,3.7M351.9,72.7l8.0,0.9M353.2,72.7l5.7,3.4M354.6,72.7l4.3,4.0M355.9,72.7l1.9,7.6M357.2,72.7l3.9,6.4M358.6,72.7l1.0,6.3M359.9,72.7l1.0,11.1M361.2,72.7l2.3,7.7M362.6,72.7l-1.0,8.4M363.9,72.7l-0.8,2.2M365.2,72.7l-2.6,-0.3M366.6,72.7l1.1,-0.0M367.9,72.7l-0.5,-0.6M369.2,72.7l-2.4,-0.4M370.6,72.7l-0.2,-5.5M371.9,72.7l4.0,-3.8M373.2,72.7l5.0,-0.8M374.6,72.7l1.0,3.5M375.9,72.7l-2.3,4.8M377.2,72.7l-5.2,3.2M378.6,72.7l-2.4,-0.1M379.9,72.7l1.8,-4.5M381.2,72.7l7.0,-2.8M382.6,72.7l2.9,-4.3M383.9,72.7l0.6,-3.5M385.2,72.7l-0.7,-7.7M386.6,72.7l1.9,-7.8M387.9,72.7l-0.7,-1.6M389.2,72.7l-2.4,-2.4M390.6,72.7l-4.9,-3.8M391.9,72.7l-4.3,-7.7M393.2,72.7l-3.2,-5.5M394.6,72.7l-1.8,-4.7M395.9,72.7l-0.0,-6.0M397.2,72.7l-1.3,-8.7M398.6,72.7l4.0,-12.7M399.9,72.7l0.6,-11.4M401.2,72.7l-1.6,-9.1M402.6,72.7l-4.2,-2.4M403.9,72.7l-4.5,-2.6M405.2,72.7l0.2,-0.4M406.6,72.7l-1.3,1.9M407.9,72.7l0.4,1.2M409.2,72.7l-0.5,-2.9M410.6,72.7l-2.2,-2.4M411.9,72.7l-0.0,-1.2M413.2,72.7l-0.2,2.6M414.6,72.7l2.6,-2.1M415.9,72.7l1.8,4.2M417.2,72.7l-0.4,6.0M418.6,72.7l-2.8,10.8M419.9,72.7l-3.5,9.4M421.2,72.7l-1.9,9.4M422.6,72.7l-0.8,6.0M423.9,72.7l-2.4,5.4M425.2,72.7l-3.0,3.6M426.6,72.7l-4.6,6.3M427.9,72.7l-2.4,4.7M429.2,72.7l-2.7,5.4M430.6,72.7l-1.4,4.4M431.9,72.7l-2.1,3.5M433.2,72.7l-2.1,3.0M434.6,72.7l-1.8,4.7M435.9,72.7l-1.3,7.7M437.2,72.7l-3.0,10.9M438.6,72.7l-4.6,11.0M439.9,72.7l-6.5,13.1M441.2,72.7l-7.3,12.6M442.6,72.7l-6.5,14.3M443.9,72.7l-7.4,16.3M445.2,72.7l-7.7,17.3M446.6,72.7l-9.3,20.2M447.9,72.7l-7.4,16.3M449.2,72.7l-9.5,21.9M450.6,72.7l-9.7,22.5M451.9,72.7l-9.0,21.4M453.2,72.7l-9.2,22.8M454.6,72.7l-8.6,21.0M455.9,72.7l-10.1,24.7M457.2,72.7l-9.9,24.4M458.6,72.7l-11.5,29.6M459.9,72.7l-10.0,26.8M461.2,72.7l-11.4,31.2M462.6,72.7l-13.3,36.8M463.9,72.7l-12.7,35.4M465.2,72.7l-13.9,39.3M466.6,72.7l-14.0,40.2M467.9,72.7l-14.1,41.2M469.2,72.7l-16.7,49.1M470.6,72.7l-18.2,54.7M471.9,72.7l-14.2,43.3M473.2,72.7l-17.2,53.6M474.6,72.7l-17.2,56.9M475.9,72.7l-14.8,54.1M477.2,72.7l-14.9,60.7M478.6,72.7l-13.4,60.1M479.9,72.7l-11.8,58.6M481.2,72.7l-9.2,51.5M482.6,72.7l-6.5,55.2M483.9,72.7l-2.8,56.8M485.2,72.7l0.2,52.9M486.6,72.7l3.2,48.5M487.9,72.7l4.7,43.8M489.2,72.7l6.9,44.9M490.6,72.7l7.0,34.9M491.9,72.7l8.3,38.2M493.2,72.7l7.7,32.9M494.6,72.7l9.8,38.2M495.9,72.7l9.3,33.9M497.2,72.7l9.3,31.9M498.6,72.7l8.5,28.5M499.9,72.7l7.5,23.9M501.2,72.7l8.5,26.3M502.6,72.7l6.8,18.9M503.9,72.7l6.4,16.9M505.2,72.7l5.2,16.9M506.6,72.7l3.6,14.5M507.9,72.7l4.0,15.2M509.2,72.7l5.6,12.2M510.6,72.7l5.0,9.9M511.9,72.7l0.6,5.2M513.2,72.7l-3.2,1.1M514.6,72.7l-3.5,0.3M515.9,72.7l5.2,-1.2M517.2,72.7l9.9,1.7M518.6,72.7l10.5,1.6M519.9,72.7l11.5,2.0M521.2,72.7l11.5,1.2M522.6,72.7l9.8,1.1M523.9,72.7l11.3,-2.1M525.2,72.7l9.3,0.1M526.6,72.7l7.3,0.5M527.9,72.7l3.6,7.3M529.2,72.7l-0.6,11.4M530.6,72.7l-2.1,12.3M531.9,72.7l-2.0,16.6M533.2,72.7l-1.1,17.4M534.6,72.7l-1.0,21.0M535.9,72.7l-1.1,23.8M537.2,72.7l-1.2,20.4M538.6,72.7l-1.0,23.3M539.9,72.7l-0.6,22.2M541.2,72.7l-0.2,17.1M542.6,72.7l-0.1,11.0M543.9,72.7l-0.8,4.0M545.2,72.7l1.3,2.0M546.6,72.7l2.5,-0.1M547.9,72.7l4.6,-0.3M549.2,72.7l1.1,-3.4M550.6,72.7l-0.9,-2.1M551.9,72.7l-0.9,-8.7M553.2,72.7l3.1,-14.0M554.6,72.7l3.7,-15.8M555.9,72.7l4.1,-14.9M557.2,72.7l0.5,-7.1M558.6,72.7l-1.2,0.3M559.9,72.7l-0.6,5.9M561.2,72.7l0.0,9.2M562.6,72.7l0.0,13.6M563.9,72.7l0.3,14.3M565.2,72.7l1.1,14.5M566.6,72.7l1.3,6.7M567.9,72.7l-1.1,7.6M569.2,72.7l-0.8,-5.1M570.6,72.7l0.4,-10.5M571.9,72.7l1.3,-15.8M573.2,72.7l2.5,-15.9M574.6,72.7l3.0,-14.8M575.9,72.7l4.2,-14.4M577.2,72.7l4.3,-12.7M578.6,72.7l4.2,-10.6M579.9,72.7l3.4,-10.4M581.2,72.7l4.1,-13.2M582.6,72.7l4.2,-15.1M583.9,72.7l5.5,-14.0M585.2,72.7l3.5,-12.8M586.6,72.7l4.6,-11.7M587.9,72.7l2.8,-6.8M589.2,72.7l4.4,-3.6M590.6,72.7l5.4,-3.4M591.9,72.7l4.6,-4.4M593.2,72.7l4.0,-3.5M594.6,72.7l2.8,-5.3M595.9,72.7l2.8,-2.1M597.2,72.7l0.9,1.5M598.6,72.7l-1.4,6.2M599.9,72.7l-0.7,5.6M601.2,72.7l-2.6,5.5M602.6,72.7l-1.7,7.0M603.9,72.7l-1.8,2.0M605.2,72.7l-1.3,4.9M606.6,72.7l0.2,4.8M607.9,72.7l2.2,9.5M609.2,72.7l4.0,5.0M610.6,72.7l4.4,2.6M611.9,72.7l2.5,1.4M613.2,72.7l2.6,4.5M614.6,72.7l3.1,4.6M615.9,72.7l2.3,3.9M617.2,72.7l4.3,2.3M618.6,72.7l2.1,3.0M619.9,72.7l2.9,-2.6M621.2,72.7l1.8,-5.5M622.6,72.7l-1.1,-8.3M623.9,72.7l-4.7,0.3M625.2,72.7l-6.6,3.0M626.6,72.7l-3.1,4.4M627.9,72.7l-0.1,1.7M629.2,72.7l8.0,-0.3M630.6,72.7l8.9,-5.4M631.9,72.7l8.9,-7.6M633.2,72.7l2.1,-10.4M634.6,72.7l-2.3,-4.0M635.9,72.7l-4.3,0.8M637.2,72.7l-6.5,1.8M638.6,72.7l-5.2,0.2M639.9,72.7l-2.9,0.1M641.2,72.7l1.2,5.7M642.6,72.7l0.6,6.9M643.9,72.7l-0.7,6.1M645.2,72.7l-2.3,3.2M646.6,72.7l1.7,1.5M647.9,72.7l1.6,0.2M649.2,72.7l1.6,3.3M650.6,72.7l-0.2,-0.7M651.9,72.7l1.8,-4.3M653.2,72.7l2.7,-8.4M654.6,72.7l2.4,-6.3M655.9,72.7l3.5,-5.3M657.2,72.7l8.9,-8.1M658.6,72.7l10.2,-12.0M659.9,72.7l7.9,-10.2M661.2,72.7l6.9,-9.5M662.6,72.7l7.8,-6.5M663.9,72.7l9.9,2.7M665.2,72.7l7.0,7.3M666.6,72.7l4.5,2.1M667.9,72.7l5.2,-0.7M669.2,72.7l0.3,-2.3M670.6,72.7l-2.0,1.0M671.9,72.7l1.0,-1.4M673.2,72.7l1.0,-5.5M674.6,72.7l2.0,-8.4M675.9,72.7l-1.8,-4.9M677.2,72.7l0.3,-4.5M678.6,72.7l1.5,-2.6M679.9,72.7l3.4,-7.7M681.2,72.7l0.4,1.3M682.6,72.7l5.9,5.1M683.9,72.7l2.3,8.8M685.2,72.7l3.4,0.2M686.6,72.7l-4.3,-2.7M687.9,72.7l-5.7,-7.1M689.2,72.7l-4.5,-7.6M690.6,72.7l0.8,-7.3M691.9,72.7l2.2,-7.0M693.2,72.7l2.6,-4.7M694.6,72.7l2.0,-7.9M695.9,72.7l1.5,-6.0M697.2,72.7l1.4,-4.5M698.6,72.7l0.9,-2.3M699.9,72.7l4.2,1.8M701.2,72.7l4.1,2.1M702.6,72.7l3.3,1.5M703.9,72.7l-0.0,5.2M705.2,72.7l0.8,0.6M706.6,72.7l1.0,-1.2M707.9,72.7l1.8,-2.5M709.2,72.7l0.3,-2.8M710.6,72.7l2.0,-4.5M711.9,72.7l3.3,-8.1M713.2,72.7l3.5,-4.5M714.6,72.7l2.5,-2.8M715.9,72.7l4.1,-5.1M717.2,72.7l1.7,-3.6M718.6,72.7l1.4,-2.0M719.9,72.7l-0.6,-0.5M721.2,72.7l-2.9,4.5M722.6,72.7l-3.4,7.6M723.9,72.7l-4.9,10.8M725.2,72.7l-2.1,6.1M726.6,72.7l-0.3,4.0M727.9,72.7l2.0,2.3M729.2,72.7l1.0,3.9M730.6,72.7l0.6,3.6M731.9,72.7l-0.7,3.0M733.2,72.7l-1.5,2.8M734.6,72.7l-2.6,8.1M735.9,72.7l-5.1,9.5M737.2,72.7l-8.4,10.1M738.6,72.7l-9.5,10.8M739.9,72.7l-11.8,12.9M741.2,72.7l-11.5,12.5M742.6,72.7l-13.8,14.1M743.9,72.7l-13.7,13.7M745.2,72.7l-12.9,13.0M746.5,72.7l-15.8,15.9M747.9,72.7l-13.0,14.2M749.2,72.7l-15.4,18.9M750.5,72.7l-10.5,12.4M751.9,72.7l-9.4,9.9M753.2,72.7l-10.2,10.0M754.5,72.7l-10.2,10.0M755.9,72.7l-9.1,10.5M757.2,72.7l-7.8,11.6M758.5,72.7l-7.7,12.1M759.9,72.7l-7.6,12.0M761.2,72.7l-5.7,7.7M762.5,72.7l-7.5,9.3M763.9,72.7l-6.7,8.6M765.2,72.7l-8.3,11.4M766.5,72.7l-8.2,10.9M767.9,72.7l-6.8,9.0M769.2,72.7l-7.7,11.9M770.5,72.7l-8.2,13.9M771.9,72.7l-7.7,12.8M773.2,72.7l-8.1,13.9M774.5,72.7l-6.6,11.1M775.9,72.7l-7.6,13.2M777.2,72.7l-6.5,11.5M778.5,72.7l-7.0,12.0M779.9,72.7l-6.5,10.5M781.2,72.7l-5.3,8.5M782.5,72.7l-2.6,4.8M783.9,72.7l-1.6,3.0M785.2,72.7l-2.9,0.5M786.5,72.7l-3.1,-1.1M787.9,72.7l-1.3,-1.3M789.2,72.7l0.4,0.2M790.5,72.7l0.4,1.6M791.9,72.7l2.2,-0.6M793.2,72.7l4.5,1.6M794.5,72.7l2.4,-0.4M795.9,72.7l-2.5,-1.3M797.2,72.7l-2.2,-2.5M798.5,72.7l-0.4,-3.4M799.9,72.7l1.0,-4.0M801.2,72.7l0.7,-5.7M802.5,72.7l0.5,-6.3M803.9,72.7l-0.9,-0.3M805.2,72.7l-7.5,5.8M806.5,72.7l-13.9,8.9M807.9,72.7l-12.2,13.8M809.2,72.7l-14.7,20.5M810.5,72.7l-14.0,20.2M811.9,72.7l-13.7,19.6M813.2,72.7l-13.4,19.1M814.5,72.7l-11.2,16.1M815.9,72.7l-11.8,17.9M817.2,72.7l-11.1,19.1M818.5,72.7l-10.4,18.9M819.9,72.7l-12.7,24.4M821.2,72.7l-12.6,25.4M822.5,72.7l-12.1,25.1M823.9,72.7l-14.5,32.0M825.2,72.7l-14.5,34.8M826.5,72.7l-13.9,36.4M827.9,72.7l-8.8,25.1M829.2,72.7l-10.2,31.8M830.5,72.7l-10.1,35.6M831.9,72.7l-9.8,39.5M833.2,72.7l-8.9,41.9M834.5,72.7l-8.7,43.9M835.9,72.7l-8.4,45.7M837.2,72.7l-8.4,46.1M838.5,72.7l-8.2,45.7M839.9,72.7l-6.0,43.3M841.2,72.7l-4.1,55.9M842.5,72.7l-1.2,63.5M843.9,72.7l-0.2,63.6M845.2,72.7l0.6,48.6M846.5,72.7l2.6,40.4M847.9,72.7l3.3,41.8M849.2,72.7l5.2,42.8M850.5,72.7l5.5,32.1M851.9,72.7l6.5,26.7M853.2,72.7l8.2,29.9M854.5,72.7l9.1,27.9M855.9,72.7l9.8,27.6M857.2,72.7l10.8,30.2M858.5,72.7l8.6,20.6M859.9,72.7l9.6,20.1M861.2,72.7l9.9,20.1M862.5,72.7l8.6,19.8M863.9,72.7l8.3,21.6M865.2,72.7l7.6,21.6M866.5,72.7l7.0,20.8M867.9,72.7l6.6,20.6M869.2,72.7l8.0,25.7M870.5,72.7l6.6,21.6M871.9,72.7l6.8,19.0M873.2,72.7l5.7,16.3M874.5,72.7l6.1,18.4M875.9,72.7l5.7,17.3M877.2,72.7l5.1,15.3M878.5,72.7l4.7,13.7M879.9,72.7l4.3,13.0M881.2,72.7l3.0,10.0M882.5,72.7l1.9,7.4M883.9,72.7l2.0,2.9M885.2,72.7l3.3,-1.6M886.5,72.7l2.8,-3.4M887.9,72.7l1.5,-3.0M889.2,72.7l0.0,-4.5M890.5,72.7l-2.0,6.5M891.9,72.7l-5.7,28.1M893.2,72.7l-4.9,25.7M894.5,72.7l-4.1,21.6M895.9,72.7l-4.4,22.9M897.2,72.7l-3.5,20.0M898.5,72.7l-3.6,19.7M899.9,72.7l-2.4,13.0M901.2,72.7l-3.8,11.1M902.5,72.7l-3.9,7.8M903.9,72.7l-3.3,5.8M905.2,72.7l-2.6,4.6M906.5,72.7l1.1,-0.1M907.9,72.7l8.3,-0.9M909.2,72.7l6.4,-0.9M910.5,72.7l6.0,1.8M911.9,72.7l1.8,4.3M913.2,72.7l-0.2,5.2M914.5,72.7l-3.3,8.5M915.9,72.7l-4.2,9.9M917.2,72.7l-4.1,9.5M918.5,72.7l-4.2,10.7M919.9,72.7l-4.6,12.1M921.2,72.7l-4.9,12.2M922.5,72.7l-1.5,4.7M923.9,72.7l-0.0,-2.5M925.2,72.7l0.9,-3.1M926.5,72.7l-2.1,0.3M927.9,72.7l-1.9,3.1M929.2,72.7l-3.2,4.5M930.5,72.7l-3.9,6.8M931.9,72.7l-4.3,7.7M933.2,72.7l-4.4,8.3M934.5,72.7l-6.1,12.3M935.9,72.7l-6.5,13.4M937.2,72.7l-6.1,13.6M938.5,72.7l-7.8,17.8M939.9,72.7l-6.8,13.9M941.2,72.7l-6.2,10.0M942.5,72.7l-4.5,6.9M943.9,72.7l-3.7,4.9M945.2,72.7l-3.4,2.8M946.5,72.7l-3.5,1.3M947.9,72.7l-2.0,3.4M949.2,72.7l-3.6,4.5M950.5,72.7l-4.9,7.4M951.9,72.7l-5.0,9.0M953.2,72.7l-5.4,11.8M954.5,72.7l-5.7,13.1M955.9,72.7l-7.3,17.0M957.2,72.7l-7.7,16.3M958.5,72.7l-7.1,11.8M959.9,72.7l-6.4,6.8M961.2,72.7l-3.4,2.3M962.5,72.7l2.1,1.6M963.9,72.7l3.7,-0.4M965.2,72.7l5.3,0.9M966.5,72.7l4.0,0.4M967.9,72.7l1.1,5.2M969.2,72.7l-2.0,6.9M970.5,72.7l-5.0,10.2M971.9,72.7l-5.4,9.3M973.2,72.7l-5.6,7.8M974.5,72.7l-6.5,8.4M975.9,72.7l-5.7,7.7M977.2,72.7l-6.5,9.0M978.5,72.7l-6.2,8.9M979.9,72.7l-6.1,8.7M981.2,72.7l-6.5,9.4M982.5,72.7l-5.1,7.1M983.9,72.7l-1.4,1.6M985.2,72.7l1.5,-3.9M986.5,72.7l0.7,-6.0M987.9,72.7l1.3,-7.4M989.2,72.7l1.1,-2.6M990.5,72.7l3.7,-5.0M991.9,72.7l3.8,-7.2M993.2,72.7l4.7,-10.1M994.5,72.7l4.0,-10.3M995.9,72.7l4.6,-11.9M997.2,72.7l3.4,-9.0M998.5,72.7l3.9,-10.4M999.9,72.7l4.7,-12.4M1001.2,72.7l5.0,-12.5M1002.5,72.7l5.3,-12.5M1003.9,72.7l6.7,-18.4M1005.2,72.7l6.5,-20.8M1006.5,72.7l8.8,-27.3M1007.9,72.7l10.6,-30.8M1009.2,72.7l11.5,-31.2M1010.5,72.7l12.5,-32.0M1011.9,72.7l12.5,-31.0M1013.2,72.7l14.1,-34.5M1014.5,72.7l12.2,-28.4M1015.9,72.7l13.9,-30.3M1017.2,72.7l13.2,-26.8M1018.5,72.7l13.1,-25.2M1019.9,72.7l12.4,-19.8M1021.2,72.7l13.2,-17.3M1022.5,72.7l16.6,-15.5M1023.9,72.7l19.0,-5.7M1025.2,72.7l6.8,1.7M1026.5,72.7l3.5,4.8M1027.9,72.7l5.9,6.6M1029.2,72.7l6.6,11.7M1030.5,72.7l4.8,16.2M1031.9,72.7l2.3,21.3M1033.2,72.7l0.2,25.2M1034.5,72.7l-3.1,26.5M1035.9,72.7l-2.8,27.3M1037.2,72.7l-2.1,21.1M1038.5,72.7l-2.6,17.7M1039.9,72.7l-3.0,11.7M1041.2,72.7l-3.9,13.7M1042.5,72.7l-4.4,14.6M1043.9,72.7l-4.0,13.4M1045.2,72.7l-5.5,12.5M1046.5,72.7l-7.5,17.4M1047.9,72.7l-8.4,20.2M1049.2,72.7l-8.5,23.0M1050.5,72.7l-8.4,22.5M1051.9,72.7l-6.2,15.3M1053.2,72.7l-6.8,16.9M1054.5,72.7l-7.0,17.8M1055.9,72.7l-6.3,16.3M1057.2,72.7l-7.0,17.7M1058.5,72.7l-6.4,13.4M1059.9,72.7l-6.0,11.0M1061.2,72.7l-5.5,9.2M1062.5,72.7l-4.5,8.5M1063.9,72.7l-1.8,6.8M1065.2,72.7l2.0,7.4M1066.5,72.7l1.4,15.4M1067.9,72.7l0.3,19.4M1069.2,72.7l-0.2,23.3M1070.5,72.7l-0.8,29.2M1071.9,72.7l-0.1,26.6M1073.2,72.7l-0.8,25.5M1074.5,72.7l-2.3,19.6M1075.9,72.7l-3.8,18.2M1077.2,72.7l-4.9,17.8M1078.5,72.7l-4.3,14.6M1079.9,72.7l-5.3,17.1M1081.2,72.7l-5.7,20.0M1082.5,72.7l-6.2,21.3M1083.9,72.7l-6.5,22.5M1085.2,72.7l-7.7,25.7M1086.5,72.7l-8.9,28.8M1087.9,72.7l-7.9,24.6M1089.2,72.7l-7.4,21.5M1090.5,72.7l-5.1,13.7M1091.9,72.7l-4.6,11.2M1093.2,72.7l-3.5,8.8M1094.5,72.7l-1.6,7.5M1095.9,72.7l0.6,5.3M1097.2,72.7l-0.3,4.7M1098.5,72.7l0.6,3.4M1099.9,72.7l1.7,-0.4M1101.2,72.7l2.7,-3.1M1102.5,72.7l5.5,-5.8M1103.9,72.7l6.1,-4.9M1105.2,72.7l5.6,-2.6M1106.5,72.7l1.2,0.8M1107.9,72.7l-3.3,5.4M1109.2,72.7l-5.8,8.8M1110.5,72.7l-5.9,12.4M1111.9,72.7l-5.8,13.8M1113.2,72.7l-6.5,16.8M1114.5,72.7l-5.5,15.6M1115.9,72.7l-5.8,17.0M1117.2,72.7l-4.8,16.4M1118.5,72.7l-5.6,18.4M1119.9,72.7l-5.3,19.0M1121.2,72.7l-4.0,13.8M1122.5,72.7l-4.4,15.1M1123.9,72.7l-3.6,13.9M1125.2,72.7l-3.9,13.4M1126.5,72.7l-2.0,11.1M1127.9,72.7l-2.3,11.2M1129.2,72.7l-2.2,13.1M1130.5,72.7l-3.0,14.3M1131.9,72.7l-2.7,13.7M1133.2,72.7l-2.5,12.2M1134.5,72.7l-2.1,13.6M1135.9,72.7l-2.1,11.7M1137.2,72.7l-2.3,10.8M1138.5,72.7l-2.9,9.5M1139.9,72.7l-2.6,7.5M1141.2,72.7l-2.0,10.9M1142.5,72.7l-1.4,13.3M1143.9,72.7l-0.9,13.4M1145.2,72.7l0.2,10.3M1146.5,72.7l-0.0,8.5M1147.8,72.7l-0.8,8.8M1149.2,72.7l-1.5,9.4M1150.5,72.7l-0.8,12.0M1151.8,72.7l0.3,12.1M1153.2,72.7l0.5,14.6M1154.5,72.7l0.1,16.2M1155.8,72.7l0.3,15.9M1157.2,72.7l1.3,11.7M1158.5,72.7l1.7,8.6M1159.8,72.7l2.3,7.2M1161.2,72.7l1.6,7.8M1162.5,72.7l1.6,10.3M1163.8,72.7l0.9,13.6M1165.2,72.7l0.4,19.7M1166.5,72.7l0.9,17.2M1167.8,72.7l0.5,12.8M1169.2,72.7l-0.5,9.7M1170.5,72.7l-0.9,8.0M1171.8,72.7l0.9,6.6M1173.2,72.7l1.9,8.4M1174.5,72.7l2.3,8.1M1175.8,72.7l2.7,3.4M1177.2,72.7l5.1,1.8M1178.5,72.7l4.4,1.6M1179.8,72.7l1.7,3.9M1181.2,72.7l-1.0,1.2M1182.5,72.7l-1.9,-4.4M1183.8,72.7l-1.1,-7.8M1185.2,72.7l-3.1,-10.5M1186.5,72.7l-0.9,-8.4M1187.8,72.7l-3.1,-0.6M1189.2,72.7l-3.7,7.2M1190.5,72.7l-5.1,9.9M1191.8,72.7l-4.6,11.1M1193.2,72.7l-4.9,11.4M1194.5,72.7l-4.9,9.7M1195.8,72.7l-4.6,8.5M1197.2,72.7l-5.9,7.8M1198.5,72.7l-5.5,5.8M1199.8,72.7l-6.8,4.7M1201.2,72.7l-7.2,1.5M1202.5,72.7l-5.8,-3.4M1203.8,72.7l0.1,-8.7M1205.2,72.7l0.8,-9.3M1206.5,72.7l-0.8,-7.9M1207.8,72.7l-2.9,-5.7M1209.2,72.7l-2.2,-4.9M1210.5,72.7l-1.4,-4.0M228.8,72.7l-14.1,-25.8M233.3,72.7l-1.9,-26.5M235.2,72.7l21.3,-27.8" stroke="#000" stroke-width="2.6" stroke-linecap="butt" fill="none"/>
<path d="M140.0,275.0 L141.1,274.4 L142.6,273.5 L144.4,272.0 L146.2,269.6 L146.9,268.2 L147.6,266.6 L148.4,264.8 L149.2,262.8 L150.0,260.8 L150.8,258.6 L151.6,256.5 L152.4,254.4 L153.2,252.4 L154.0,250.5 L154.9,248.5 L155.8,246.5 L156.7,244.6 L157.6,242.7 L158.5,240.8 L159.4,239.0 L160.4,237.2 L161.4,235.4 L162.5,233.7 L163.8,231.8 L165.1,229.8 L166.6,227.9 L168.0,226.1 L169.5,224.3 L170.9,222.7 L172.3,221.4 L173.7,220.2 L175.7,218.8 L177.6,217.9 L179.5,217.4 L181.5,217.3 L183.6,217.4 L185.6,217.7 L187.6,218.4 L189.8,219.2 L192.0,220.2 L194.1,221.3 L196.2,222.4 L197.9,223.4 L199.6,224.6 L201.3,225.9 L202.9,227.2 L204.5,228.5 L206.0,229.7 L207.5,230.9 L209.3,232.4 L210.8,233.8 L212.3,235.1 L213.9,236.5 L215.9,237.9 L217.6,239.0 L219.5,240.2 L221.5,241.4 L223.6,242.6 L225.7,243.8 L227.8,244.7 L229.9,245.5 L232.0,246.0 L234.1,246.4 L236.2,246.5 L238.4,246.6 L240.4,246.7 L242.3,246.8 L244.0,246.9 L246.4,247.3 L248.4,247.8 L250.2,248.2 L252.4,248.3 L254.4,248.0 L256.4,247.5 L258.6,246.9 L261.0,246.3 L263.7,245.8 L265.6,245.5 L267.6,245.2 L269.8,244.9 L272.0,244.7 L274.3,244.5 L276.5,244.3 L278.6,244.2 L280.5,244.3 L282.9,244.6 L285.1,245.2 L287.3,245.9 L289.3,246.6 L291.3,247.3 L293.2,247.7 L295.8,247.8 L298.2,247.6 L300.5,247.5 L303.0,247.7 L304.8,248.2 L306.8,249.0 L308.8,249.9 L310.7,250.8 L312.6,251.5 L314.3,251.9 L317.1,251.8 L319.5,251.1 L322.0,250.5 L324.2,250.5 L326.6,250.6 L328.9,250.7 L331.2,250.5 L333.2,249.8 L335.1,248.8 L337.2,247.8 L339.7,246.9 L341.4,246.6 L343.4,246.3 L345.5,246.1 L347.6,245.9 L349.7,245.7 L351.8,245.4 L353.7,244.9 L355.7,244.2 L357.7,243.3 L359.5,242.3 L361.3,241.3 L363.2,240.3 L365.0,239.3 L366.8,238.4 L368.6,237.5 L370.4,236.6 L372.3,235.7 L374.2,234.7 L376.2,233.7 L378.1,232.7 L380.0,231.7 L382.0,230.6 L384.1,229.6 L386.2,228.5 L388.3,227.5 L390.3,226.6 L392.3,225.8 L394.3,225.0 L396.4,224.2 L398.4,223.6 L400.4,222.9 L402.4,222.4 L404.3,221.9 L406.5,221.4 L408.6,221.0 L410.7,220.7 L412.8,220.5 L414.9,220.5 L417.0,220.5 L419.1,220.7 L421.3,220.9 L423.4,221.3 L425.5,221.9 L427.6,222.5 L429.6,223.3 L431.6,224.2 L433.5,225.3 L435.3,226.5 L437.2,227.8 L439.0,229.3 L440.9,230.9 L442.3,232.2 L443.7,233.6 L445.1,235.1 L446.5,236.7 L447.9,238.3 L449.3,240.0 L450.7,241.8 L452.1,243.5 L453.3,245.1 L454.6,246.8 L455.8,248.5 L457.1,250.3 L458.3,252.1 L459.6,253.8 L460.8,255.6 L462.1,257.3 L463.3,259.0 L464.7,260.9 L466.2,262.9 L467.6,264.9 L469.0,266.8 L470.5,268.6 L471.9,270.3 L473.3,271.8 L474.6,273.0 L476.7,274.5 L478.6,275.5 L480.5,276.1 L482.5,276.2 L484.4,275.8 L486.1,274.9 L487.8,273.4 L489.5,271.6 L491.2,269.6 L492.8,267.7 L494.3,266.0 L495.8,264.2 L497.2,262.5 L498.4,260.8 L499.7,259.2 L501.0,257.5 L502.4,255.8 L503.9,254.1 L505.3,252.4 L506.8,250.7 L508.4,249.0 L510.0,247.2 L511.7,245.3 L513.4,243.5 L515.1,241.9 L516.9,240.6 L519.3,239.7 L521.7,239.2 L524.2,239.0 L526.7,238.7 L529.2,238.1 L531.6,237.5 L534.0,237.0 L536.5,237.0 L538.5,237.5 L540.4,238.3 L542.4,239.2 L544.3,240.1 L546.3,240.6 L548.7,240.6 L551.2,240.3 L553.6,239.8 L556.2,239.8 L558.4,240.2 L560.6,240.9 L562.9,241.7 L565.1,242.3 L567.4,242.6 L569.7,242.4 L571.9,241.9 L574.2,241.3 L576.4,240.8 L578.7,240.6 L581.0,240.8 L583.3,241.4 L585.6,242.0 L587.8,242.6 L589.9,242.9 L592.1,242.7 L594.1,242.2 L596.1,241.7 L598.3,241.5 L600.5,241.8 L602.9,242.4 L605.4,243.0 L607.7,243.6 L609.6,244.0 L611.7,244.0 L614.2,243.6 L615.8,243.6 L617.6,243.5 L619.8,243.5 L622.0,243.5 L624.3,243.4 L626.6,243.4 L628.8,243.3 L630.9,243.2 L633.0,243.1 L635.1,243.0 L637.1,242.9 L639.2,242.8 L641.3,242.6 L643.4,242.4 L645.5,242.2 L647.6,241.9 L649.7,241.6 L651.7,241.3 L653.8,241.0 L655.9,240.7 L658.0,240.4 L660.1,240.2 L662.2,240.0 L664.4,239.7 L666.5,239.6 L668.6,239.4 L670.6,239.2 L672.6,239.0 L674.8,238.8 L677.0,238.6 L679.1,238.3 L681.1,238.1 L683.1,238.0 L685.0,237.8 L687.1,237.6 L688.9,237.5 L690.7,237.4 L692.7,237.4 L695.0,237.3 L696.9,237.3 L699.0,237.2 L701.2,237.2 L703.5,237.2 L705.8,237.2 L708.0,237.3 L710.2,237.4 L712.2,237.6 L714.1,238.0 L716.0,238.4 L717.8,238.8 L719.8,239.2 L721.8,239.6 L724.0,239.9 L725.9,240.1 L728.0,240.3 L730.1,240.5 L732.4,240.7 L734.6,240.9 L736.8,241.0 L738.9,241.1 L740.7,241.1 L742.4,241.1 L745.3,240.8 L747.5,240.2 L749.4,239.6 L751.6,239.1 L753.8,238.9 L756.0,238.8 L758.3,238.7 L760.6,238.5 L762.7,238.1 L765.1,237.3 L767.2,236.2 L769.4,235.1 L771.9,234.2 L773.8,233.8 L775.9,233.6 L778.0,233.4 L780.1,233.3 L782.1,233.1 L783.9,232.9 L786.8,232.3 L789.2,231.6 L791.3,231.2 L793.6,231.5 L795.9,232.4 L797.6,233.4 L799.6,234.7 L801.9,236.1 L803.6,237.0 L805.6,237.9 L807.6,239.0 L809.5,240.0 L811.1,241.1 L813.0,243.1 L814.3,245.2 L815.7,247.3 L817.1,249.4 L818.6,251.4 L820.3,253.6 L821.6,255.0 L823.1,256.6 L824.7,258.2 L826.2,259.7 L827.7,261.0 L829.3,262.4 L830.8,263.5 L832.3,264.7 L834.1,266.0 L835.8,267.4 L837.7,269.2 L839.7,270.8 L841.6,272.2 L843.3,273.0 L845.7,272.7 L847.7,271.3 L849.8,269.7 L851.6,268.6 L853.4,267.3 L855.3,265.9 L857.2,264.7 L859.0,263.7 L860.9,262.7 L862.7,261.7 L864.5,260.5 L866.2,259.0 L867.9,257.2 L869.4,255.4 L871.0,253.6 L872.3,251.9 L873.6,250.2 L874.9,248.5 L876.5,247.1 L878.1,246.1 L879.9,245.3 L881.8,244.6 L883.8,243.9 L885.7,243.1 L887.7,242.1 L889.7,241.0 L891.7,239.9 L893.7,239.1 L895.7,238.6 L897.7,238.7 L899.8,239.1 L901.9,239.8 L903.8,240.4 L905.7,240.8 L908.0,240.9 L910.2,240.7 L912.2,240.5 L914.1,240.4 L917.1,240.7 L919.7,241.3 L922.2,242.3 L924.5,243.2 L926.4,243.5 L928.2,243.5 L930.5,243.1 L933.0,242.6 L936.0,242.5 L939.0,242.6 L941.9,242.9 L944.5,243.2 L946.1,243.7 L947.9,243.9 L950.0,243.3 L952.6,242.3 L955.3,241.4 L957.2,240.8 L959.0,240.2 L961.0,239.6 L963.0,239.0 L965.2,238.4 L967.5,237.8 L969.8,237.2 L972.3,236.4 L974.2,235.7 L976.3,234.9 L978.3,234.0 L980.5,233.1 L982.7,232.2 L984.6,231.4 L986.6,230.5 L988.7,229.6 L990.8,228.8 L992.8,228.0 L994.6,227.3 L997.2,226.5 L999.5,225.8 L1001.8,225.3 L1004.0,225.1 L1006.1,225.1 L1008.0,225.4 L1010.1,225.9 L1012.3,226.5 L1014.0,226.9 L1015.8,227.3 L1017.7,227.7 L1019.6,228.3 L1021.7,229.1 L1023.8,230.2 L1025.3,231.2 L1026.9,232.3 L1028.6,233.7 L1030.3,235.1 L1032.1,236.5 L1033.8,238.0 L1035.4,239.3 L1036.9,240.5 L1038.3,241.4 L1041.0,242.8 L1043.3,243.5 L1045.4,244.0 L1047.7,244.8 L1049.7,245.8 L1051.8,246.9 L1053.9,248.1 L1056.0,249.1 L1058.1,249.8 L1060.2,250.0 L1062.3,249.9 L1064.4,249.7 L1066.4,249.5 L1068.5,249.5 L1070.6,249.9 L1072.8,250.5 L1074.9,251.1 L1077.0,251.6 L1078.9,251.8 L1081.1,251.4 L1083.0,250.6 L1084.9,249.7 L1087.3,249.0 L1089.1,248.8 L1091.2,248.8 L1093.3,248.8 L1095.5,248.8 L1097.7,248.7 L1099.7,248.4 L1102.0,247.8 L1104.3,246.9 L1106.5,245.9 L1108.7,245.0 L1110.9,244.4 L1113.2,244.2 L1115.4,244.3 L1117.7,244.5 L1119.9,244.6 L1122.2,244.4 L1124.4,243.8 L1126.4,243.0 L1128.5,242.1 L1130.8,241.3 L1133.4,240.8 L1135.3,240.6 L1137.3,240.6 L1139.4,240.5 L1141.7,240.6 L1143.9,240.7 L1146.1,240.9 L1148.3,241.1 L1150.3,241.3 L1152.4,241.7 L1154.5,242.2 L1156.4,242.7 L1158.3,243.4 L1160.3,244.0 L1162.3,244.5 L1164.4,245.0 L1166.4,245.4 L1168.4,245.7 L1170.5,246.1 L1172.6,246.4 L1174.8,246.7 L1176.9,247.0 L1179.1,247.1 L1181.2,247.2 L1183.3,247.2 L1185.5,247.1 L1187.7,246.9 L1189.9,246.7 L1192.0,246.4 L1194.1,246.1 L1196.1,245.8 L1198.1,245.5 L1200.6,245.0 L1203.1,244.4 L1205.5,243.8 L1207.8,243.2 L1209.8,242.6 L1211.6,242.2 L1214.5,241.6 L1216.6,241.2 L1218.0,241.0" fill="none" stroke="#EC1C24" stroke-width="3.8" stroke-linejoin="round"/>
<path d="M140.0,246.0 L141.4,245.9 L143.6,245.6 L146.2,244.3 L147.5,243.2 L148.9,241.8 L150.4,240.2 L152.0,238.5 L153.7,236.7 L155.3,235.1 L156.9,233.7 L158.8,232.3 L160.7,230.9 L162.6,229.6 L164.6,228.5 L166.4,227.4 L168.1,226.6 L170.4,225.6 L172.4,225.0 L174.4,224.7 L176.5,224.7 L178.4,225.0 L180.4,225.5 L182.4,226.3 L184.4,227.1 L186.4,228.0 L188.3,229.0 L190.3,230.0 L192.2,231.2 L194.1,232.4 L196.2,233.7 L198.0,234.8 L199.9,235.9 L201.8,237.1 L203.7,238.3 L205.6,239.5 L207.5,240.7 L209.3,241.9 L211.1,243.0 L212.9,244.2 L214.8,245.4 L216.7,246.5 L218.7,247.7 L220.5,248.7 L222.4,249.9 L224.3,251.0 L226.3,252.1 L228.3,253.1 L230.4,254.0 L232.7,254.7 L234.6,255.1 L236.6,255.5 L238.8,255.8 L241.0,256.1 L243.2,256.3 L245.4,256.4 L247.4,256.4 L249.3,256.3 L251.0,256.1 L253.5,255.4 L255.5,254.3 L257.2,252.9 L259.0,251.6 L260.9,250.5 L263.1,249.7 L265.4,249.0 L267.7,248.4 L269.9,247.8 L272.1,247.2 L274.1,246.5 L276.1,245.6 L278.0,244.9 L280.0,244.4 L281.9,244.3 L283.9,244.8 L285.8,245.9 L287.7,247.2 L289.7,248.3 L291.8,249.1 L294.0,249.4 L296.2,249.3 L298.6,249.1 L300.8,249.0 L303.0,249.1 L305.1,249.6 L307.1,250.4 L309.0,251.2 L310.9,251.8 L312.9,251.9 L314.9,251.4 L316.9,250.4 L318.9,249.3 L320.8,248.1 L322.7,247.2 L324.9,246.5 L326.9,246.0 L328.9,245.6 L331.2,244.9 L332.9,244.2 L334.8,243.3 L336.7,242.4 L338.6,241.5 L340.6,240.9 L342.5,240.7 L344.4,241.0 L346.2,241.7 L348.1,242.6 L350.0,243.7 L351.8,244.7 L353.7,245.5 L356.0,246.3 L358.2,247.0 L360.5,247.7 L362.7,248.4 L365.0,249.1 L367.2,250.1 L369.5,251.3 L371.7,252.5 L374.0,253.3 L376.2,253.3 L377.8,252.8 L379.4,252.0 L381.0,250.9 L382.7,249.6 L384.3,248.1 L385.9,246.5 L387.5,244.9 L388.9,243.5 L390.3,242.1 L391.7,240.6 L393.1,239.0 L394.5,237.2 L395.9,235.3 L397.3,233.2 L398.7,230.9 L399.6,229.3 L400.4,227.5 L401.3,225.6 L402.1,223.5 L402.9,221.4 L403.8,219.3 L404.6,217.1 L405.5,214.9 L406.3,212.8 L407.2,210.8 L408.1,208.9 L409.0,207.2 L409.9,205.6 L411.4,203.3 L413.0,201.0 L414.7,198.9 L416.3,197.1 L418.0,195.5 L419.6,194.2 L421.1,193.3 L422.6,192.9 L424.4,193.1 L426.1,194.1 L427.8,195.8 L429.3,197.9 L430.9,200.2 L432.4,202.7 L433.3,204.2 L434.2,205.9 L435.0,207.6 L435.9,209.5 L436.7,211.4 L437.6,213.4 L438.4,215.6 L439.2,217.8 L440.1,220.0 L440.9,222.4 L441.5,224.1 L442.1,226.0 L442.7,227.9 L443.3,229.8 L443.9,231.8 L444.5,233.9 L445.1,235.9 L445.7,238.0 L446.3,240.1 L446.9,242.2 L447.5,244.3 L448.1,246.4 L448.7,248.5 L449.3,250.5 L449.9,252.5 L450.5,254.6 L451.1,256.6 L451.7,258.7 L452.2,260.8 L452.8,262.9 L453.4,264.9 L454.0,267.0 L454.6,269.0 L455.2,271.0 L455.8,273.0 L456.4,274.9 L457.1,276.8 L457.7,278.6 L458.5,280.8 L459.3,283.0 L460.1,285.4 L460.9,287.7 L461.7,290.0 L462.6,292.2 L463.4,294.3 L464.3,296.1 L465.1,297.7 L465.9,299.1 L466.8,300.0 L467.6,300.6 L468.8,300.7 L470.1,300.1 L471.3,298.8 L472.6,297.0 L473.8,294.8 L475.1,292.3 L476.2,289.7 L477.4,287.1 L478.0,285.6 L478.7,283.9 L479.3,282.2 L479.9,280.4 L480.5,278.5 L481.1,276.5 L481.7,274.5 L482.3,272.4 L482.9,270.3 L483.4,268.1 L484.0,265.8 L484.6,263.6 L485.2,261.3 L485.8,259.0 L486.3,257.2 L486.8,255.2 L487.2,253.2 L487.7,251.1 L488.2,249.0 L488.7,246.8 L489.2,244.6 L489.7,242.3 L490.2,240.1 L490.7,237.9 L491.2,235.7 L491.6,233.6 L492.1,231.5 L492.6,229.5 L493.0,227.6 L493.5,225.7 L493.9,224.0 L494.3,222.4 L495.1,219.4 L495.9,216.7 L496.6,214.2 L497.3,212.0 L498.0,209.9 L498.7,208.1 L499.3,206.4 L499.9,204.9 L500.5,203.5 L502.6,200.0 L504.5,199.3 L506.4,199.9 L508.5,202.5 L509.3,203.8 L510.1,205.3 L511.0,207.1 L511.9,209.2 L512.9,211.7 L514.0,214.7 L514.5,216.2 L515.1,217.8 L515.6,219.6 L516.2,221.5 L516.8,223.4 L517.4,225.4 L518.1,227.5 L518.7,229.6 L519.3,231.8 L520.0,233.9 L520.6,236.0 L521.3,238.1 L521.9,240.1 L522.5,242.0 L523.1,244.0 L523.8,246.1 L524.4,248.1 L525.1,250.1 L525.7,252.1 L526.4,254.1 L527.0,256.1 L527.7,258.1 L528.3,260.0 L529.0,261.9 L529.6,263.7 L530.3,265.5 L530.9,267.3 L531.7,269.6 L532.6,271.8 L533.5,274.0 L534.3,276.2 L535.2,278.3 L536.0,280.3 L536.9,282.2 L537.7,284.0 L538.5,285.6 L539.3,287.0 L541.1,290.1 L542.8,292.4 L544.5,293.8 L546.3,294.0 L547.4,293.5 L548.6,292.5 L549.8,291.1 L551.1,289.4 L552.3,287.5 L553.6,285.2 L554.8,282.8 L555.5,281.3 L556.2,279.6 L556.9,277.8 L557.6,275.9 L558.3,274.0 L559.0,271.9 L559.7,269.8 L560.4,267.6 L561.1,265.5 L561.8,263.3 L562.5,261.1 L563.2,258.9 L563.8,257.0 L564.4,255.0 L565.0,253.0 L565.7,250.8 L566.3,248.7 L566.9,246.6 L567.5,244.4 L568.1,242.3 L568.7,240.2 L569.3,238.1 L569.9,236.1 L570.5,234.3 L571.1,232.5 L571.6,230.8 L572.5,228.2 L573.3,225.9 L574.1,223.8 L574.9,221.9 L575.6,220.0 L576.4,218.2 L577.2,216.2 L578.0,214.0 L578.7,212.1 L579.4,210.0 L580.1,207.8 L580.8,205.6 L581.5,203.4 L582.3,201.2 L583.0,199.1 L583.7,197.2 L584.3,195.5 L585.0,194.0 L586.5,191.3 L587.9,189.6 L589.3,188.4 L590.8,187.4 L592.9,186.0 L595.2,185.1 L597.4,184.9 L599.6,185.5 L601.7,186.9 L604.0,188.9 L605.4,190.4 L606.9,192.2 L608.3,194.2 L609.8,196.3 L611.3,198.4 L612.5,200.2 L613.8,202.1 L615.0,204.1 L616.3,206.0 L617.5,208.0 L618.6,210.0 L619.7,211.9 L620.6,213.7 L621.6,215.6 L622.5,217.5 L623.4,219.5 L624.4,221.7 L625.1,223.5 L625.9,225.5 L626.6,227.5 L627.3,229.6 L628.1,231.7 L628.8,233.8 L629.6,235.8 L630.3,237.8 L631.1,240.0 L631.9,242.0 L632.7,244.1 L633.5,246.1 L634.3,248.2 L635.2,250.3 L636.1,252.4 L636.9,254.3 L637.8,256.3 L638.7,258.4 L639.7,260.4 L640.6,262.4 L641.5,264.5 L642.5,266.5 L643.4,268.4 L644.3,270.3 L645.2,272.2 L646.1,274.1 L647.0,276.0 L648.0,277.8 L648.9,279.6 L649.8,281.3 L650.7,283.0 L651.9,285.2 L653.1,287.3 L654.4,289.3 L655.6,291.3 L656.8,293.1 L658.0,294.7 L659.9,296.8 L661.7,298.6 L663.6,300.1 L665.3,301.3 L668.2,302.6 L671.1,302.7 L672.8,302.2 L674.7,301.3 L676.6,300.2 L678.4,299.1 L680.1,298.0 L681.7,296.9 L683.3,295.6 L685.0,294.0 L686.4,292.5 L687.8,290.7 L689.2,288.9 L690.6,286.9 L692.0,285.0 L693.2,283.4 L694.3,281.7 L695.5,279.9 L696.7,278.2 L697.9,276.6 L699.0,275.0 L700.3,273.3 L701.5,271.8 L702.8,270.4 L704.1,268.9 L705.6,267.2 L707.0,265.7 L708.5,264.1 L710.1,262.4 L711.7,260.7 L713.3,259.0 L714.8,257.3 L716.3,255.6 L717.8,253.9 L719.2,252.1 L720.6,250.4 L721.9,248.8 L723.1,247.3 L724.4,245.4 L725.5,243.8 L726.4,242.1 L727.7,239.9 L728.6,238.3 L729.6,236.5 L730.7,234.6 L731.8,232.6 L732.9,230.5 L734.0,228.3 L735.0,226.2 L736.0,224.3 L736.9,222.4 L737.8,220.4 L738.7,218.4 L739.6,216.4 L740.6,214.3 L741.5,212.2 L742.4,210.0 L743.2,208.2 L743.9,206.5 L744.6,204.7 L745.4,202.9 L746.1,201.0 L746.8,199.1 L747.6,197.2 L748.3,195.3 L749.0,193.4 L749.8,191.4 L750.5,189.6 L751.1,187.7 L751.8,185.8 L752.5,183.8 L753.1,181.9 L753.8,179.9 L754.5,177.9 L755.1,176.0 L755.8,174.0 L756.5,172.1 L757.2,170.2 L757.9,168.1 L758.6,166.1 L759.4,164.0 L760.1,162.0 L760.8,159.9 L761.6,157.9 L762.3,155.9 L763.1,154.0 L763.8,152.1 L764.5,150.3 L765.5,148.0 L766.4,145.8 L767.3,143.5 L768.2,141.4 L769.2,139.3 L770.1,137.4 L771.0,135.7 L771.9,134.2 L773.6,131.8 L775.3,130.1 L777.0,129.1 L778.8,128.7 L780.8,129.2 L782.8,130.5 L784.8,132.3 L786.6,134.2 L788.0,135.8 L789.2,137.5 L790.4,139.5 L791.5,141.6 L792.7,144.1 L793.4,145.8 L794.1,147.6 L794.8,149.5 L795.5,151.5 L796.1,153.6 L796.8,155.8 L797.5,158.0 L798.2,160.3 L798.7,162.2 L799.3,164.1 L799.8,166.1 L800.4,168.2 L800.9,170.3 L801.5,172.4 L802.1,174.6 L802.6,176.8 L803.2,179.1 L803.7,181.4 L804.1,183.2 L804.6,185.0 L805.0,186.8 L805.4,188.7 L805.8,190.5 L806.3,192.4 L806.7,194.4 L807.1,196.4 L807.6,198.4 L808.0,200.5 L808.4,202.6 L808.8,204.8 L809.3,207.1 L809.6,208.9 L809.9,210.8 L810.2,212.7 L810.6,214.7 L810.9,216.8 L811.2,218.8 L811.5,220.9 L811.9,223.1 L812.2,225.2 L812.5,227.3 L812.8,229.4 L813.2,231.6 L813.5,233.6 L813.8,235.7 L814.1,237.7 L814.5,239.7 L814.8,241.6 L815.2,243.9 L815.6,246.1 L816.0,248.3 L816.4,250.4 L816.8,252.6 L817.2,254.7 L817.5,256.8 L817.9,258.8 L818.3,260.9 L818.7,262.9 L819.1,264.9 L819.5,267.0 L819.9,269.0 L820.3,271.0 L820.7,273.2 L821.2,275.3 L821.6,277.5 L822.0,279.6 L822.4,281.8 L822.8,283.9 L823.3,286.0 L823.7,288.1 L824.1,290.1 L824.5,292.2 L825.0,294.3 L825.4,296.3 L825.8,298.3 L826.3,300.5 L826.8,302.6 L827.2,304.8 L827.7,306.9 L828.2,309.0 L828.6,311.1 L829.1,313.2 L829.6,315.3 L830.0,317.3 L830.5,319.3 L830.9,321.3 L831.4,323.2 L831.9,325.5 L832.4,327.7 L832.9,329.9 L833.4,332.1 L833.9,334.2 L834.4,336.3 L834.9,338.4 L835.4,340.4 L835.9,342.4 L836.5,344.4 L837.1,346.6 L837.7,348.8 L838.3,351.0 L838.9,353.2 L839.6,355.3 L840.2,357.3 L840.9,359.2 L841.6,360.9 L842.3,362.5 L843.7,365.0 L845.2,367.2 L846.7,369.0 L848.3,370.3 L849.8,371.0 L851.7,371.0 L853.6,370.1 L855.5,368.5 L857.3,366.5 L858.3,365.1 L859.3,363.6 L860.3,361.9 L861.2,360.0 L862.1,357.9 L863.1,355.7 L864.0,353.4 L864.7,351.7 L865.3,349.9 L866.0,347.9 L866.7,345.9 L867.4,343.9 L868.0,341.8 L868.7,339.7 L869.4,337.5 L870.0,335.3 L870.7,333.2 L871.3,331.2 L871.9,329.2 L872.5,327.1 L873.1,325.1 L873.7,323.0 L874.3,320.8 L875.0,318.7 L875.6,316.7 L876.2,314.6 L876.8,312.6 L877.4,310.6 L878.0,308.5 L878.7,306.4 L879.4,304.3 L880.0,302.2 L880.7,300.2 L881.4,298.2 L882.0,296.2 L882.7,294.3 L883.4,292.3 L884.0,290.4 L884.8,288.3 L885.5,286.1 L886.3,283.9 L887.0,281.8 L887.7,279.7 L888.5,277.7 L889.2,275.7 L890.0,273.9 L890.7,272.3 L891.8,270.1 L893.0,268.1 L894.1,266.3 L895.3,264.7 L896.4,263.4 L897.4,262.2 L899.8,260.0 L902.4,259.3 L904.2,259.3 L906.3,259.6 L908.5,260.0 L910.7,260.6 L912.6,261.2 L914.6,261.9 L916.7,262.6 L918.6,263.4 L920.2,264.0 L923.0,265.5 L925.4,265.9 L927.0,264.9 L928.7,263.2 L930.3,261.4 L931.6,259.8 L933.1,257.8 L934.2,255.8 L935.0,254.0 L935.9,252.1 L936.7,250.0 L937.6,247.8 L938.5,245.4 L939.3,243.0 L940.0,241.1 L940.6,239.2 L941.3,237.2 L941.9,235.2 L942.6,233.1 L943.2,230.9 L943.9,228.7 L944.5,226.4 L945.2,224.1 L945.8,221.7 L946.5,219.3 L947.1,216.8 L947.6,214.8 L948.2,212.7 L948.7,210.7 L949.2,208.5 L949.7,206.4 L950.2,204.2 L950.7,202.0 L951.3,199.8 L951.8,197.5 L952.3,195.2 L952.7,193.3 L953.2,191.3 L953.6,189.4 L954.0,187.4 L954.5,185.4 L954.9,183.4 L955.3,181.4 L955.8,179.4 L956.2,177.3 L956.6,175.3 L957.1,173.2 L957.5,171.2 L957.9,169.2 L958.4,167.2 L958.8,165.1 L959.2,163.1 L959.6,161.2 L960.1,159.2 L960.6,156.9 L961.1,154.5 L961.6,152.3 L962.2,150.0 L962.7,147.8 L963.2,145.6 L963.7,143.5 L964.2,141.4 L964.7,139.4 L965.3,137.4 L965.9,135.0 L966.6,132.6 L967.2,130.4 L967.9,128.2 L968.5,126.1 L969.2,124.2 L969.8,122.3 L970.5,120.4 L971.3,118.0 L972.2,115.6 L973.0,113.4 L973.9,111.3 L974.8,109.3 L975.6,107.4 L976.9,104.9 L978.2,102.8 L979.5,101.1 L980.8,99.8 L982.1,99.0 L983.4,98.7 L984.7,99.1 L986.0,100.1 L987.3,101.8 L988.6,104.1 L989.5,106.0 L990.4,108.2 L991.2,110.2 L992.0,112.1 L993.0,115.3 L993.5,116.8 L994.0,118.5 L994.5,120.5 L995.1,122.6 L995.7,124.9 L996.4,127.3 L997.1,129.8 L997.7,132.4 L998.2,134.1 L998.6,135.8 L999.1,137.5 L999.6,139.3 L1000.0,141.2 L1000.5,143.0 L1001.0,145.0 L1001.5,147.0 L1002.0,149.0 L1002.5,151.1 L1003.0,153.3 L1003.5,155.5 L1004.0,157.7 L1004.4,159.5 L1004.7,161.3 L1005.1,163.1 L1005.5,165.0 L1005.8,166.9 L1006.2,168.9 L1006.6,170.8 L1006.9,172.8 L1007.3,174.9 L1007.7,176.9 L1008.0,179.0 L1008.4,181.0 L1008.8,183.1 L1009.1,185.2 L1009.5,187.3 L1009.9,189.3 L1010.2,191.4 L1010.6,193.4 L1010.9,195.3 L1011.3,197.4 L1011.6,199.4 L1012.0,201.4 L1012.3,203.5 L1012.7,205.5 L1013.0,207.6 L1013.4,209.7 L1013.7,211.7 L1014.1,213.8 L1014.4,215.8 L1014.7,217.9 L1015.1,219.9 L1015.4,221.9 L1015.8,224.0 L1016.1,225.9 L1016.5,227.9 L1016.9,230.0 L1017.2,232.0 L1017.6,234.0 L1018.0,236.0 L1018.3,238.0 L1018.7,240.0 L1019.1,242.0 L1019.4,243.9 L1019.8,245.9 L1020.2,247.9 L1020.5,249.8 L1020.9,251.8 L1021.3,253.7 L1021.6,255.7 L1022.0,257.7 L1022.4,259.6 L1022.7,261.6 L1023.1,263.6 L1023.5,265.6 L1023.8,267.7 L1024.2,269.7 L1024.6,271.8 L1024.9,273.8 L1025.3,275.9 L1025.7,278.0 L1026.0,280.0 L1026.4,282.0 L1026.8,284.0 L1027.1,286.0 L1027.5,287.9 L1027.9,289.9 L1028.2,291.7 L1028.6,293.5 L1029.0,295.3 L1029.5,297.6 L1029.9,299.8 L1030.4,302.0 L1030.9,304.2 L1031.4,306.3 L1031.9,308.4 L1032.3,310.4 L1032.8,312.4 L1033.3,314.2 L1033.8,316.0 L1034.3,317.6 L1034.7,319.2 L1035.2,320.6 L1036.5,323.7 L1037.7,326.1 L1039.0,327.9 L1040.2,329.3 L1041.5,330.5 L1043.5,331.9 L1045.5,332.4 L1047.7,331.9 L1049.2,331.2 L1050.9,330.1 L1052.6,328.6 L1054.3,326.9 L1056.0,324.8 L1057.1,323.3 L1058.1,321.6 L1059.2,319.8 L1060.2,317.9 L1061.2,315.9 L1062.3,313.7 L1063.3,311.6 L1064.3,309.4 L1065.2,307.6 L1066.0,305.7 L1066.8,303.8 L1067.7,301.8 L1068.5,299.8 L1069.3,297.8 L1070.2,295.7 L1071.0,293.7 L1071.8,291.7 L1072.7,289.7 L1073.5,287.7 L1074.4,285.8 L1075.2,283.8 L1076.1,281.9 L1076.9,279.9 L1077.7,277.9 L1078.6,276.0 L1079.4,274.0 L1080.2,272.1 L1081.0,270.1 L1081.8,268.1 L1082.6,266.1 L1083.3,264.0 L1084.1,261.9 L1084.8,259.9 L1085.5,257.9 L1086.3,255.9 L1087.0,254.0 L1087.6,252.1 L1088.3,250.4 L1089.2,248.0 L1090.0,245.8 L1090.8,243.7 L1091.5,241.7 L1092.3,239.8 L1093.1,238.1 L1094.1,236.5 L1095.6,234.6 L1097.3,233.0 L1099.1,231.6 L1100.9,230.5 L1102.5,229.5 L1104.8,228.1 L1107.0,227.3 L1109.5,227.5 L1111.0,228.2 L1112.5,229.2 L1114.2,230.6 L1115.9,232.0 L1117.6,233.6 L1119.4,235.1 L1120.9,236.4 L1122.5,237.8 L1124.1,239.3 L1125.7,240.8 L1127.4,242.3 L1129.0,243.7 L1130.6,245.0 L1132.5,246.5 L1134.4,248.1 L1136.2,249.6 L1138.1,250.9 L1140.0,252.0 L1141.9,252.6 L1144.1,252.7 L1146.2,252.2 L1148.4,251.3 L1150.7,250.4 L1153.1,249.8 L1155.0,249.5 L1157.0,249.1 L1159.1,248.7 L1161.2,248.4 L1163.3,248.2 L1165.3,248.2 L1167.2,248.4 L1169.2,249.0 L1171.0,249.8 L1172.8,250.8 L1174.6,252.0 L1176.4,253.4 L1178.4,254.8 L1179.9,255.9 L1181.4,257.1 L1183.0,258.4 L1184.6,259.8 L1186.3,261.2 L1187.9,262.6 L1189.5,263.9 L1191.0,265.1 L1192.5,266.1 L1194.6,267.5 L1196.6,268.7 L1198.5,269.8 L1200.3,270.7 L1202.1,271.3 L1203.7,271.7 L1205.9,271.6 L1207.9,270.8 L1209.8,269.8 L1211.6,268.9 L1214.1,267.8 L1216.4,266.8 L1218.0,266.0" fill="none" stroke="#3650A2" stroke-width="3.8" stroke-linejoin="round"/>
</g>
<g clip-path="url(#cb)">
<g fill="none" stroke="#000" stroke-opacity="0.17" stroke-width="2.6">
<path d="M143.00,600.00 L144.07,602.73 L145.14,610.74 L146.21,623.59 L147.28,640.52 L148.35,660.54 L149.42,682.49 L150.48,705.11 L151.55,727.06 L152.62,747.08 L153.69,764.01 L154.76,776.86 L155.83,784.87 L156.90,787.60"/>
<path d="M156.90,787.60 L157.93,784.87 L158.96,776.84 L159.99,763.99 L161.02,747.04 L162.05,727.00 L163.08,705.02 L164.12,682.38 L165.15,660.40 L166.18,640.36 L167.21,623.41 L168.24,610.56 L169.27,602.53 L170.30,599.80"/>
<path d="M170.30,599.80 L171.30,602.05 L172.30,608.67 L173.30,619.34 L174.30,633.52 L175.30,650.50 L176.30,669.42 L177.30,689.35 L178.30,709.28 L179.30,728.20 L180.30,745.18 L181.30,759.36 L182.30,770.03 L183.30,776.65 L184.30,778.90"/>
<path d="M184.30,778.90 L185.33,776.32 L186.36,768.72 L187.39,756.54 L188.42,740.50 L189.45,721.52 L190.48,700.72 L191.52,679.28 L192.55,658.48 L193.58,639.50 L194.61,623.46 L195.64,611.28 L196.67,603.68 L197.70,601.10"/>
<path d="M197.70,601.10 L198.77,603.82 L199.84,611.83 L200.91,624.65 L201.98,641.55 L203.05,661.54 L204.12,683.46 L205.18,706.04 L206.25,727.96 L207.32,747.95 L208.39,764.85 L209.46,777.67 L210.53,785.68 L211.60,788.40"/>
<path d="M211.60,788.40 L212.64,785.69 L213.68,777.71 L214.72,764.94 L215.75,748.10 L216.79,728.18 L217.83,706.35 L218.87,683.85 L219.91,662.02 L220.95,642.10 L221.98,625.26 L223.02,612.49 L224.06,604.51 L225.10,601.80"/>
<path d="M225.10,601.80 L226.15,604.23 L227.19,611.38 L228.24,622.82 L229.28,637.91 L230.33,655.76 L231.38,675.32 L232.42,695.48 L233.47,715.04 L234.52,732.89 L235.56,747.98 L236.61,759.42 L237.65,766.57 L238.70,769.00"/>
<path d="M238.70,769.00 L239.74,766.61 L240.78,759.60 L241.82,748.35 L242.85,733.54 L243.89,716.01 L244.93,696.80 L245.97,677.00 L247.01,657.79 L248.05,640.26 L249.08,625.45 L250.12,614.20 L251.16,607.19 L252.20,604.80"/>
<path d="M252.20,604.80 L253.23,607.46 L254.26,615.27 L255.29,627.79 L256.32,644.28 L257.35,663.79 L258.38,685.18 L259.42,707.22 L260.45,728.61 L261.48,748.12 L262.51,764.61 L263.54,777.13 L264.57,784.94 L265.60,787.60"/>
<path d="M265.60,787.60 L266.67,784.92 L267.74,777.03 L268.81,764.40 L269.88,747.75 L270.95,728.06 L272.02,706.47 L273.08,684.23 L274.15,662.64 L275.22,642.95 L276.29,626.30 L277.36,613.67 L278.43,605.78 L279.50,603.10"/>
<path d="M279.50,603.10 L280.52,605.34 L281.53,611.91 L282.55,622.45 L283.56,636.34 L284.58,652.76 L285.59,670.77 L286.61,689.33 L287.62,707.34 L288.64,723.76 L289.65,737.65 L290.67,748.19 L291.68,754.76 L292.70,757.00"/>
<path d="M292.70,757.00 L293.73,754.92 L294.76,748.78 L295.79,738.96 L296.82,726.01 L297.85,710.69 L298.88,693.90 L299.92,676.60 L300.95,659.81 L301.98,644.49 L303.01,631.54 L304.04,621.72 L305.07,615.58 L306.10,613.50"/>
<path d="M306.10,613.50 L307.14,615.95 L308.18,623.14 L309.22,634.68 L310.25,649.87 L311.29,667.84 L312.33,687.55 L313.37,707.85 L314.41,727.56 L315.45,745.53 L316.48,760.72 L317.52,772.26 L318.56,779.45 L319.60,781.90"/>
<path d="M319.60,781.90 L320.67,779.39 L321.74,772.01 L322.81,760.20 L323.88,744.62 L324.95,726.20 L326.02,706.00 L327.08,685.20 L328.15,665.00 L329.22,646.58 L330.29,631.00 L331.36,619.19 L332.43,611.81 L333.50,609.30"/>
<path d="M333.50,609.30 L334.53,611.23 L335.56,616.91 L336.59,626.00 L337.62,637.98 L338.65,652.15 L339.68,667.70 L340.72,683.70 L341.75,699.25 L342.78,713.42 L343.81,725.40 L344.84,734.49 L345.87,740.17 L346.90,742.10"/>
<path d="M346.90,742.10 L347.95,740.28 L349.01,734.92 L350.06,726.34 L351.12,715.04 L352.17,701.67 L353.22,687.00 L354.28,671.90 L355.33,657.23 L356.38,643.86 L357.44,632.56 L358.49,623.98 L359.55,618.62 L360.60,616.80"/>
<path d="M360.60,616.80 L361.65,619.05 L362.71,625.68 L363.76,636.30 L364.82,650.30 L365.87,666.85 L366.92,685.00 L367.98,703.70 L369.03,721.85 L370.08,738.40 L371.14,752.40 L372.19,763.02 L373.25,769.65 L374.30,771.90"/>
<path d="M374.30,771.90 L375.33,769.95 L376.36,764.21 L377.39,754.95 L378.41,742.65 L379.44,727.91 L380.47,711.49 L381.50,694.20 L382.53,676.91 L383.56,660.49 L384.59,645.75 L385.61,633.45 L386.64,624.19 L387.67,618.45 L388.70,616.50"/>
<path d="M388.70,616.50 L389.78,618.45 L390.85,624.18 L391.93,633.30 L393.00,645.17 L394.08,659.01 L395.15,673.85 L396.23,688.69 L397.30,702.52 L398.38,714.40 L399.45,723.52 L400.52,729.25 L401.60,731.20"/>
<path d="M401.60,731.20 L402.65,729.47 L403.70,724.40 L404.75,716.34 L405.80,705.83 L406.85,693.59 L407.90,680.45 L408.95,667.31 L410.00,655.08 L411.05,644.56 L412.10,636.50 L413.15,631.43 L414.20,629.70"/>
<path d="M414.20,629.70 L415.23,631.41 L416.26,636.47 L417.29,644.62 L418.31,655.45 L419.34,668.42 L420.37,682.88 L421.40,698.10 L422.43,713.32 L423.46,727.78 L424.49,740.75 L425.51,751.58 L426.54,759.73 L427.57,764.79 L428.60,766.50"/>
<path d="M428.60,766.50 L429.66,764.84 L430.73,759.95 L431.79,752.07 L432.86,741.59 L433.92,729.05 L434.99,715.07 L436.05,700.35 L437.11,685.63 L438.18,671.65 L439.24,659.11 L440.31,648.63 L441.37,640.75 L442.44,635.86 L443.50,634.20"/>
<path d="M443.50,634.20 L444.52,635.43 L445.53,639.04 L446.55,644.83 L447.56,652.45 L448.58,661.47 L449.59,671.36 L450.61,681.54 L451.62,691.43 L452.64,700.45 L453.65,708.07 L454.67,713.86 L455.68,717.47 L456.70,718.70"/>
<path d="M456.70,718.70 L457.76,717.25 L458.83,713.02 L459.89,706.34 L460.95,697.77 L462.02,687.99 L463.08,677.81 L464.15,668.03 L465.21,659.46 L466.27,652.78 L467.34,648.55 L468.40,647.10"/>
<path d="M468.40,647.10 L469.41,648.52 L470.43,652.71 L471.44,659.45 L472.46,668.41 L473.47,679.14 L474.49,691.11 L475.50,703.70 L476.51,716.29 L477.53,728.26 L478.54,738.99 L479.56,747.95 L480.57,754.69 L481.59,758.88 L482.60,760.30"/>
<path d="M482.60,760.30 L483.63,759.19 L484.65,755.92 L485.68,750.59 L486.70,743.43 L487.73,734.70 L488.75,724.74 L489.77,713.94 L490.80,702.70 L491.82,691.46 L492.85,680.66 L493.87,670.70 L494.90,661.97 L495.92,654.81 L496.95,649.48 L497.97,646.21 L499.00,645.10"/>
<path d="M499.00,645.10 L500.03,646.00 L501.06,648.63 L502.09,652.86 L503.12,658.43 L504.15,665.01 L505.18,672.23 L506.22,679.67 L507.25,686.89 L508.28,693.47 L509.31,699.04 L510.34,703.27 L511.37,705.90 L512.40,706.80"/>
<path d="M512.40,706.80 L513.47,705.75 L514.54,702.71 L515.61,697.98 L516.68,692.01 L517.75,685.40 L518.82,678.79 L519.89,672.82 L520.96,668.09 L522.03,665.05 L523.10,664.00"/>
<path d="M523.10,664.00 L524.11,664.85 L525.12,667.38 L526.14,671.48 L527.15,677.00 L528.16,683.73 L529.18,691.41 L530.19,699.74 L531.20,708.40 L532.21,717.06 L533.22,725.39 L534.24,733.07 L535.25,739.80 L536.26,745.32 L537.28,749.42 L538.29,751.95 L539.30,752.80"/>
<path d="M539.30,752.80 L540.31,751.87 L541.31,749.13 L542.32,744.69 L543.32,738.70 L544.33,731.40 L545.34,723.08 L546.34,714.04 L547.35,704.65 L548.36,695.26 L549.36,686.22 L550.37,677.90 L551.38,670.60 L552.38,664.61 L553.39,660.17 L554.39,657.43 L555.40,656.50"/>
<path d="M555.40,656.50 L556.45,657.10 L557.51,658.88 L558.56,661.73 L559.62,665.48 L560.67,669.92 L561.72,674.79 L562.78,679.81 L563.83,684.68 L564.88,689.12 L565.94,692.87 L566.99,695.72 L568.05,697.50 L569.10,698.10"/>
<path d="M569.10,698.10 L570.12,697.67 L571.14,696.42 L572.15,694.44 L573.17,691.90 L574.19,689.01 L575.21,685.99 L576.23,683.10 L577.25,680.56 L578.26,678.58 L579.28,677.33 L580.30,676.90"/>
<path d="M580.30,676.90 L581.31,677.55 L582.33,679.46 L583.34,682.56 L584.35,686.74 L585.36,691.83 L586.37,697.64 L587.39,703.94 L588.40,710.50 L589.41,717.06 L590.43,723.36 L591.44,729.17 L592.45,734.26 L593.46,738.44 L594.48,741.54 L595.49,743.45 L596.50,744.10"/>
<path d="M596.50,744.10 L597.51,743.12 L598.51,740.24 L599.52,735.55 L600.53,729.24 L601.53,721.55 L602.54,712.77 L603.54,703.25 L604.55,693.35 L605.56,683.45 L606.56,673.93 L607.57,665.15 L608.57,657.46 L609.58,651.15 L610.59,646.46 L611.59,643.58 L612.60,642.60"/>
<path d="M612.60,642.60 L613.64,643.60 L614.68,646.53 L615.73,651.20 L616.77,657.27 L617.81,664.35 L618.85,671.95 L619.89,679.55 L620.93,686.62 L621.97,692.70 L623.02,697.37 L624.06,700.30 L625.10,701.30"/>
<path d="M625.10,701.30 L626.15,700.81 L627.19,699.36 L628.24,697.05 L629.28,694.00 L630.33,690.39 L631.38,686.44 L632.42,682.36 L633.47,678.41 L634.52,674.80 L635.56,671.75 L636.61,669.44 L637.65,667.99 L638.70,667.50"/>
<path d="M638.70,667.50 L639.77,668.57 L640.84,671.72 L641.91,676.80 L642.99,683.56 L644.06,691.64 L645.13,700.66 L646.20,710.15 L647.27,719.64 L648.34,728.66 L649.41,736.74 L650.49,743.50 L651.56,748.58 L652.63,751.73 L653.70,752.80"/>
<path d="M653.70,752.80 L654.71,751.43 L655.71,747.36 L656.72,740.79 L657.73,731.99 L658.73,721.35 L659.74,709.34 L660.75,696.47 L661.75,683.33 L662.76,670.46 L663.77,658.45 L664.77,647.81 L665.78,639.01 L666.79,632.44 L667.79,628.37 L668.80,627.00"/>
<path d="M668.80,627.00 L669.81,628.29 L670.82,632.08 L671.82,638.15 L672.83,646.16 L673.84,655.62 L674.85,666.00 L675.85,676.70 L676.86,687.08 L677.87,696.54 L678.88,704.55 L679.88,710.62 L680.89,714.41 L681.90,715.70"/>
<path d="M681.90,715.70 L682.92,714.73 L683.93,711.89 L684.95,707.33 L685.96,701.32 L686.98,694.21 L687.99,686.41 L689.01,678.39 L690.02,670.59 L691.04,663.48 L692.05,657.47 L693.07,652.91 L694.08,650.07 L695.10,649.10"/>
<path d="M695.10,649.10 L696.11,650.55 L697.11,654.83 L698.12,661.73 L699.13,670.90 L700.14,681.88 L701.14,694.12 L702.15,707.00 L703.16,719.88 L704.16,732.12 L705.17,743.10 L706.18,752.27 L707.19,759.17 L708.19,763.45 L709.20,764.90"/>
<path d="M709.20,764.90 L710.26,762.99 L711.33,757.35 L712.39,748.28 L713.46,736.21 L714.52,721.76 L715.59,705.66 L716.65,688.70 L717.71,671.74 L718.78,655.64 L719.84,641.19 L720.91,629.12 L721.97,620.05 L723.04,614.41 L724.10,612.50"/>
<path d="M724.10,612.50 L725.12,614.38 L726.13,619.91 L727.15,628.77 L728.16,640.45 L729.18,654.26 L730.19,669.40 L731.21,685.00 L732.22,700.14 L733.24,713.95 L734.25,725.63 L735.27,734.49 L736.28,740.02 L737.30,741.90"/>
<path d="M737.30,741.90 L738.32,740.23 L739.33,735.33 L740.35,727.48 L741.36,717.13 L742.38,704.89 L743.39,691.46 L744.41,677.64 L745.42,664.21 L746.44,651.97 L747.45,641.62 L748.47,633.77 L749.48,628.87 L750.50,627.20"/>
<path d="M750.50,627.20 L751.51,629.13 L752.51,634.83 L753.52,644.00 L754.53,656.19 L755.54,670.79 L756.54,687.07 L757.55,704.20 L758.56,721.33 L759.56,737.61 L760.57,752.21 L761.58,764.40 L762.59,773.57 L763.59,779.27 L764.60,781.20"/>
<path d="M764.60,781.20 L765.64,778.55 L766.68,770.77 L767.72,758.29 L768.75,741.85 L769.79,722.40 L770.83,701.08 L771.87,679.12 L772.91,657.80 L773.95,638.35 L774.98,621.91 L776.02,609.43 L777.06,601.65 L778.10,599.00"/>
<path d="M778.10,599.00 L779.14,601.41 L780.18,608.50 L781.22,619.86 L782.25,634.83 L783.29,652.54 L784.33,671.95 L785.37,691.95 L786.41,711.36 L787.45,729.07 L788.48,744.04 L789.52,755.40 L790.56,762.49 L791.60,764.90"/>
<path d="M791.60,764.90 L792.64,762.56 L793.68,755.69 L794.72,744.68 L795.75,730.17 L796.79,713.01 L797.83,694.19 L798.87,674.81 L799.91,655.99 L800.95,638.83 L801.98,624.32 L803.02,613.31 L804.06,606.44 L805.10,604.10"/>
<path d="M805.10,604.10 L806.15,606.80 L807.21,614.76 L808.26,627.50 L809.32,644.29 L810.37,664.15 L811.42,685.93 L812.48,708.37 L813.53,730.15 L814.58,750.01 L815.64,766.80 L816.69,779.54 L817.75,787.50 L818.80,790.20"/>
<path d="M818.80,790.20 L819.81,787.61 L820.81,779.97 L821.82,767.66 L822.83,751.31 L823.84,731.72 L824.84,709.89 L825.85,686.90 L826.86,663.91 L827.86,642.08 L828.87,622.49 L829.88,606.14 L830.89,593.83 L831.89,586.19 L832.90,583.60"/>
<path d="M832.90,583.60 L833.94,586.46 L834.98,594.87 L836.02,608.35 L837.05,626.10 L838.09,647.11 L839.13,670.14 L840.17,693.86 L841.21,716.89 L842.25,737.90 L843.28,755.65 L844.32,769.13 L845.36,777.54 L846.40,780.40"/>
<path d="M846.40,780.40 L847.48,777.51 L848.55,769.01 L849.63,755.40 L850.71,737.47 L851.78,716.25 L852.86,692.98 L853.94,669.02 L855.02,645.75 L856.09,624.53 L857.17,606.60 L858.25,592.99 L859.32,584.49 L860.40,581.60"/>
<path d="M860.40,581.60 L861.46,584.62 L862.52,593.51 L863.58,607.75 L864.65,626.52 L865.71,648.72 L866.77,673.06 L867.83,698.14 L868.89,722.48 L869.95,744.68 L871.02,763.45 L872.08,777.69 L873.14,786.58 L874.20,789.60"/>
<path d="M874.20,789.60 L875.24,786.46 L876.28,777.23 L877.32,762.45 L878.35,742.97 L879.39,719.93 L880.43,694.66 L881.47,668.64 L882.51,643.37 L883.55,620.33 L884.58,600.85 L885.62,586.07 L886.66,576.84 L887.70,573.70"/>
<path d="M887.70,573.70 L888.74,576.83 L889.78,586.03 L890.82,600.77 L891.85,620.20 L892.89,643.18 L893.93,668.37 L894.97,694.33 L896.01,719.52 L897.05,742.50 L898.08,761.93 L899.12,776.67 L900.16,785.87 L901.20,789.00"/>
<path d="M901.20,789.00 L902.21,786.25 L903.21,778.13 L904.22,765.06 L905.23,747.68 L906.24,726.87 L907.24,703.67 L908.25,679.25 L909.26,654.83 L910.26,631.63 L911.27,610.82 L912.28,593.44 L913.29,580.37 L914.29,572.25 L915.30,569.50"/>
<path d="M915.30,569.50 L916.36,572.61 L917.42,581.75 L918.48,596.40 L919.55,615.70 L920.61,638.53 L921.67,663.56 L922.73,689.34 L923.79,714.37 L924.85,737.20 L925.92,756.50 L926.98,771.15 L928.04,780.29 L929.10,783.40"/>
<path d="M929.10,783.40 L930.13,780.41 L931.16,771.63 L932.19,757.56 L933.22,739.02 L934.25,717.09 L935.28,693.04 L936.32,668.26 L937.35,644.21 L938.38,622.28 L939.41,603.74 L940.44,589.67 L941.47,580.89 L942.50,577.90"/>
<path d="M942.50,577.90 L943.56,581.16 L944.62,590.76 L945.68,606.13 L946.75,626.38 L947.81,650.35 L948.87,676.62 L949.93,703.68 L950.99,729.95 L952.05,753.92 L953.12,774.17 L954.18,789.54 L955.24,799.14 L956.30,802.40"/>
<path d="M956.30,802.40 L957.35,799.23 L958.41,789.89 L959.46,774.94 L960.52,755.23 L961.57,731.92 L962.62,706.36 L963.68,680.04 L964.73,654.48 L965.78,631.17 L966.84,611.46 L967.89,596.51 L968.95,587.17 L970.00,584.00"/>
<path d="M970.00,584.00 L971.05,586.74 L972.09,594.81 L973.14,607.73 L974.18,624.75 L975.23,644.89 L976.28,666.98 L977.32,689.72 L978.37,711.81 L979.42,731.95 L980.46,748.97 L981.51,761.89 L982.55,769.96 L983.60,772.70"/>
<path d="M983.60,772.70 L984.61,769.95 L985.62,761.87 L986.62,748.92 L987.63,731.86 L988.64,711.68 L989.65,689.55 L990.65,666.75 L991.66,644.62 L992.67,624.44 L993.68,607.38 L994.68,594.43 L995.69,586.35 L996.70,583.60"/>
<path d="M996.70,583.60 L997.72,586.44 L998.74,594.81 L999.76,608.30 L1000.79,626.22 L1001.81,647.68 L1002.83,671.61 L1003.85,696.80 L1004.87,721.99 L1005.89,745.92 L1006.91,767.38 L1007.94,785.30 L1008.96,798.79 L1009.98,807.16 L1011.00,810.00"/>
<path d="M1011.00,810.00 L1012.06,806.61 L1013.12,796.63 L1014.18,780.64 L1015.25,759.57 L1016.31,734.65 L1017.37,707.32 L1018.43,679.18 L1019.49,651.85 L1020.55,626.93 L1021.62,605.86 L1022.68,589.87 L1023.74,579.89 L1024.80,576.50"/>
<path d="M1024.80,576.50 L1025.86,579.24 L1026.92,587.30 L1027.98,600.22 L1029.05,617.23 L1030.11,637.36 L1031.17,659.43 L1032.23,682.17 L1033.29,704.24 L1034.35,724.37 L1035.42,741.38 L1036.48,754.30 L1037.54,762.36 L1038.60,765.10"/>
<path d="M1038.60,765.10 L1039.67,762.29 L1040.75,754.07 L1041.82,740.98 L1042.90,723.93 L1043.97,704.06 L1045.05,682.75 L1046.12,661.44 L1047.20,641.58 L1048.27,624.52 L1049.35,611.43 L1050.42,603.21 L1051.50,600.40"/>
<path d="M1051.50,600.40 L1052.54,603.01 L1053.57,610.71 L1054.61,623.12 L1055.64,639.61 L1056.68,659.36 L1057.71,681.37 L1058.75,704.55 L1059.79,727.73 L1060.82,749.74 L1061.86,769.49 L1062.89,785.98 L1063.93,798.39 L1064.96,806.09 L1066.00,808.70"/>
<path d="M1066.00,808.70 L1067.01,805.98 L1068.03,797.97 L1069.04,785.06 L1070.06,767.91 L1071.07,747.36 L1072.09,724.46 L1073.10,700.35 L1074.11,676.24 L1075.13,653.34 L1076.14,632.79 L1077.16,615.64 L1078.17,602.73 L1079.19,594.72 L1080.20,592.00"/>
<path d="M1080.20,592.00 L1081.25,594.21 L1082.31,600.71 L1083.36,611.13 L1084.42,624.85 L1085.47,641.08 L1086.52,658.88 L1087.58,677.22 L1088.63,695.02 L1089.68,711.25 L1090.74,724.97 L1091.79,735.39 L1092.85,741.89 L1093.90,744.10"/>
<path d="M1093.90,744.10 L1094.91,741.82 L1095.92,735.13 L1096.93,724.49 L1097.93,710.62 L1098.94,694.48 L1099.95,677.15 L1100.96,659.82 L1101.97,643.68 L1102.97,629.81 L1103.98,619.17 L1104.99,612.48 L1106.00,610.20"/>
<path d="M1106.00,610.20 L1107.04,612.55 L1108.07,619.46 L1109.11,630.61 L1110.14,645.42 L1111.18,663.16 L1112.21,682.93 L1113.25,703.75 L1114.29,724.57 L1115.32,744.34 L1116.36,762.08 L1117.39,776.89 L1118.43,788.04 L1119.46,794.95 L1120.50,797.30"/>
<path d="M1120.50,797.30 L1121.55,794.88 L1122.60,787.73 L1123.65,776.22 L1124.70,760.93 L1125.75,742.61 L1126.80,722.20 L1127.85,700.70 L1128.90,679.20 L1129.95,658.79 L1131.00,640.47 L1132.05,625.18 L1133.10,613.67 L1134.15,606.52 L1135.20,604.10"/>
<path d="M1135.20,604.10 L1136.22,605.82 L1137.23,610.88 L1138.25,618.99 L1139.26,629.67 L1140.28,642.31 L1141.29,656.16 L1142.31,670.44 L1143.32,684.29 L1144.34,696.93 L1145.35,707.61 L1146.37,715.72 L1147.38,720.78 L1148.40,722.50"/>
<path d="M1148.40,722.50 L1149.46,720.87 L1150.52,716.11 L1151.58,708.53 L1152.63,698.65 L1153.69,687.15 L1154.75,674.80 L1155.81,662.45 L1156.87,650.95 L1157.92,641.07 L1158.98,633.49 L1160.04,628.73 L1161.10,627.10"/>
<path d="M1161.10,627.10 L1162.14,629.01 L1163.19,634.65 L1164.23,643.74 L1165.27,655.81 L1166.31,670.27 L1167.36,686.38 L1168.40,703.35 L1169.44,720.32 L1170.49,736.43 L1171.53,750.89 L1172.57,762.96 L1173.61,772.05 L1174.66,777.69 L1175.70,779.60"/>
<path d="M1175.70,779.60 L1176.76,777.57 L1177.83,771.56 L1178.89,761.90 L1179.96,749.05 L1181.02,733.66 L1182.09,716.51 L1183.15,698.45 L1184.21,680.39 L1185.28,663.24 L1186.34,647.85 L1187.41,635.00 L1188.47,625.34 L1189.54,619.33 L1190.60,617.30"/>
<path d="M1190.60,617.30 L1191.62,618.79 L1192.63,623.17 L1193.65,630.19 L1194.66,639.44 L1195.68,650.38 L1196.69,662.37 L1197.71,674.73 L1198.72,686.72 L1199.74,697.66 L1200.75,706.91 L1201.77,713.93 L1202.78,718.31 L1203.80,719.80"/>
<path d="M1203.80,719.80 L1204.81,718.80 L1205.83,715.85 L1206.84,711.10 L1207.86,704.78 L1208.87,697.21 L1209.89,688.78 L1210.90,679.90 L1211.91,671.02 L1212.93,662.59 L1213.94,655.02 L1214.96,648.70 L1215.97,643.95 L1216.99,641.00 L1218.00,640.00"/>
</g>
<line x1="146.6" y1="701.5" x2="1211.6" y2="701.5" stroke="#b44cae" stroke-width="1.2" stroke-dasharray="4.6 3.45"/>
<path d="M149.5,539.4l5.6,2.4M153.1,539.4l5.5,2.8M156.7,539.4l4.4,2.1M160.3,539.4l-0.0,7.1M163.9,539.4l1.1,0.8M167.5,539.4l1.4,-1.6M171.1,539.4l2.5,-3.4M174.7,539.4l0.5,-3.7M178.3,539.4l2.8,-6.1M181.9,539.4l4.5,-11.0M185.5,539.4l4.7,-6.0M189.1,539.4l3.3,-3.8M192.7,539.4l5.5,-7.0M196.3,539.4l2.4,-4.9M199.9,539.4l1.9,-2.7M203.5,539.4l-0.8,-0.7M207.1,539.4l-4.0,6.1M210.7,539.4l-4.6,10.3M214.3,539.4l-6.6,14.5M217.9,539.4l-2.8,8.3M221.5,539.4l-0.5,5.4M225.1,539.4l2.6,3.1M228.7,539.4l1.3,5.3M232.3,539.4l0.8,4.9M235.9,539.4l-0.9,4.0M239.5,539.4l-2.1,3.8M243.1,539.4l-3.5,10.9M246.7,539.4l-6.9,12.9M250.3,539.4l-11.4,13.7M253.9,539.4l-12.8,14.6M257.5,539.4l-15.9,17.4M261.1,539.4l-15.5,16.9M264.7,539.4l-18.7,19.0M268.3,539.4l-18.6,18.6M271.9,539.4l-17.4,17.6M275.5,539.4l-21.4,21.4M279.1,539.4l-17.5,19.1M282.7,539.4l-20.9,25.6M286.3,539.4l-14.1,16.8M289.9,539.4l-12.8,13.4M293.5,539.4l-13.8,13.5M297.1,539.4l-13.7,13.5M300.7,539.4l-12.3,14.1M304.3,539.4l-10.6,15.7M307.9,539.4l-10.5,16.3M311.5,539.4l-10.2,16.2M315.1,539.4l-7.8,10.4M318.7,539.4l-10.2,12.6M322.3,539.4l-9.0,11.6M325.9,539.4l-11.3,15.5M329.5,539.4l-11.0,14.8M333.1,539.4l-9.2,12.1M336.7,539.4l-10.4,16.1M340.3,539.4l-11.2,18.7M343.9,539.4l-10.5,17.2M347.5,539.4l-10.9,18.8M351.1,539.4l-8.9,15.1M354.7,539.4l-10.3,17.9M358.3,539.4l-8.9,15.5M361.9,539.4l-9.4,16.3M365.5,539.4l-8.8,14.2M369.1,539.4l-7.2,11.5M372.7,539.4l-3.5,6.5M376.3,539.4l-2.1,4.0M379.9,539.4l-4.0,0.7M383.5,539.4l-4.2,-1.4M387.1,539.4l-1.8,-1.7M390.7,539.4l0.5,0.2M394.3,539.4l0.5,2.2M397.9,539.4l3.0,-0.8M401.5,539.4l6.1,2.1M405.1,539.4l3.2,-0.5M408.7,539.4l-3.4,-1.7M412.3,539.4l-3.0,-3.4M415.9,539.4l-0.5,-4.5M419.5,539.4l1.4,-5.4M423.1,539.4l0.9,-7.6M426.7,539.4l0.7,-8.6M430.3,539.4l-1.3,-0.4M433.9,539.4l-10.2,7.9M437.5,539.4l-18.8,12.0M441.1,539.4l-16.5,18.6M444.7,539.4l-19.8,27.7M448.3,539.4l-19.0,27.4M451.9,539.4l-18.5,26.5M455.4,539.4l-18.1,25.8M459.0,539.4l-15.2,21.7M462.6,539.4l-16.0,24.3M466.2,539.4l-15.1,25.8M469.8,539.4l-14.1,25.6M473.4,539.4l-17.2,32.9M477.0,539.4l-17.0,34.3M480.6,539.4l-16.4,34.0M484.2,539.4l-19.6,43.3M487.8,539.4l-19.6,47.0M491.4,539.4l-18.8,49.3M495.0,539.4l-11.9,33.9M498.6,539.4l-13.8,43.0M502.2,539.4l-13.7,48.2M505.8,539.4l-13.3,53.4M509.4,539.4l-12.1,56.7M513.0,539.4l-11.7,59.4M516.6,539.4l-11.3,61.8M520.2,539.4l-11.3,62.3M523.8,539.4l-11.1,61.8M527.4,539.4l-8.1,58.6M531.0,539.4l-5.6,75.6M534.6,539.4l-1.7,85.8M538.2,539.4l-0.3,86.0M541.8,539.4l0.8,65.7M545.4,539.4l3.5,54.6M549.0,539.4l4.4,56.5M552.6,539.4l7.0,57.9M556.2,539.4l7.5,43.4M559.8,539.4l8.7,36.1M563.4,539.4l11.1,40.4M567.0,539.4l12.3,37.7M570.6,539.4l13.2,37.3M574.2,539.4l14.6,40.8M577.8,539.4l11.7,27.8M581.4,539.4l13.0,27.1M585.0,539.4l13.4,27.2M588.6,539.4l11.7,26.8M592.2,539.4l11.2,29.2M595.8,539.4l10.3,29.2M599.4,539.4l9.4,28.1M603.0,539.4l9.0,27.9M606.6,539.4l10.7,34.8M610.2,539.4l9.0,29.2M613.8,539.4l9.1,25.7M617.4,539.4l7.7,22.0M621.0,539.4l8.3,24.9M624.6,539.4l7.7,23.4M628.2,539.4l6.9,20.6M631.8,539.4l6.3,18.6M635.4,539.4l5.7,17.6M639.0,539.4l4.0,13.5M642.6,539.4l2.6,10.0M646.2,539.4l2.7,4.0M649.8,539.4l4.5,-2.1M653.4,539.4l3.8,-4.6M657.0,539.4l2.0,-4.1M660.6,539.4l0.0,-6.1M664.2,539.4l-2.7,8.8M667.8,539.4l-7.7,38.0M671.4,539.4l-6.6,34.7M675.0,539.4l-5.5,29.2M678.6,539.4l-5.9,30.9M682.2,539.4l-4.7,27.0M685.8,539.4l-4.8,26.7M689.4,539.4l-3.2,17.5M693.0,539.4l-5.2,15.0M696.6,539.4l-5.3,10.5M700.2,539.4l-4.4,7.8M703.8,539.4l-3.5,6.3M707.4,539.4l1.5,-0.2M711.0,539.4l11.2,-1.3M714.6,539.4l8.7,-1.2M718.2,539.4l8.1,2.4M721.8,539.4l2.5,5.8M725.4,539.4l-0.2,7.1M729.0,539.4l-4.4,11.5M732.6,539.4l-5.7,13.4M736.2,539.4l-5.5,12.9M739.8,539.4l-5.6,14.5M743.4,539.4l-6.3,16.4M747.0,539.4l-6.6,16.5M750.6,539.4l-2.0,6.3M754.2,539.4l-0.0,-3.3M757.8,539.4l1.2,-4.2M761.4,539.4l-2.9,0.4M765.0,539.4l-2.6,4.2M768.6,539.4l-4.3,6.0M772.2,539.4l-5.3,9.2M775.8,539.4l-5.8,10.3M779.4,539.4l-5.9,11.2M783.0,539.4l-8.2,16.6M786.6,539.4l-8.7,18.1M790.2,539.4l-8.3,18.4M793.8,539.4l-10.5,24.1M797.4,539.4l-9.2,18.8M801.0,539.4l-8.4,13.5M804.6,539.4l-6.0,9.4M808.2,539.4l-5.0,6.6M811.8,539.4l-4.6,3.8M815.4,539.4l-4.8,1.7M819.0,539.4l-2.7,4.6M822.6,539.4l-4.8,6.1M826.2,539.4l-6.6,10.0M829.8,539.4l-6.8,12.1M833.4,539.4l-7.2,16.0M837.0,539.4l-7.7,17.8M840.6,539.4l-9.9,22.9M844.2,539.4l-10.5,22.0M847.8,539.4l-9.5,15.9M851.4,539.4l-8.6,9.1M855.0,539.4l-4.5,3.1M858.6,539.4l2.8,2.1M862.2,539.4l4.9,-0.5M865.8,539.4l7.2,1.2M869.4,539.4l5.4,0.6M873.0,539.4l1.5,7.0M876.6,539.4l-2.8,9.4M880.2,539.4l-6.7,13.8M883.8,539.4l-7.3,12.5M887.4,539.4l-7.5,10.6M891.0,539.4l-8.8,11.3M894.6,539.4l-7.7,10.4M898.2,539.4l-8.8,12.2M901.8,539.4l-8.3,12.1M905.4,539.4l-8.3,11.7M909.0,539.4l-8.8,12.6M912.6,539.4l-6.9,9.6M916.2,539.4l-1.9,2.2M919.8,539.4l2.1,-5.3M923.4,539.4l1.0,-8.1M927.0,539.4l1.7,-10.0M930.6,539.4l1.4,-3.5M934.2,539.4l5.0,-6.7M937.8,539.4l5.1,-9.8M941.4,539.4l6.4,-13.7M945.0,539.4l5.5,-13.9M948.6,539.4l6.2,-16.0M952.2,539.4l4.5,-12.1M955.8,539.4l5.3,-14.1M959.4,539.4l6.4,-16.7M963.0,539.4l6.8,-16.9M966.6,539.4l7.1,-16.8M970.2,539.4l9.0,-24.8M973.8,539.4l8.8,-28.1M977.4,539.4l11.9,-36.9M981.0,539.4l14.3,-41.6M984.6,539.4l15.5,-42.2M988.2,539.4l16.9,-43.3M991.8,539.4l16.9,-41.9M995.4,539.4l19.1,-46.6M999.0,539.4l16.4,-38.4M1002.6,539.4l18.8,-41.0M1006.2,539.4l17.8,-36.3M1009.8,539.4l17.8,-34.0M1013.4,539.4l16.8,-26.7M1017.0,539.4l17.9,-23.3M1020.6,539.4l22.4,-20.9M1024.2,539.4l25.7,-7.8M1027.8,539.4l9.2,2.3M1031.4,539.4l4.7,6.5M1035.0,539.4l8.0,9.0M1038.6,539.4l8.9,15.8M1042.2,539.4l6.4,21.9M1045.8,539.4l3.0,28.7M1049.4,539.4l0.3,34.1M1053.0,539.4l-4.2,35.8M1056.6,539.4l-3.7,36.9M1060.2,539.4l-2.9,28.5M1063.8,539.4l-3.5,24.0M1067.4,539.4l-4.0,15.8M1071.0,539.4l-5.3,18.5M1074.6,539.4l-6.0,19.7M1078.2,539.4l-5.4,18.1M1081.8,539.4l-7.4,16.8M1085.4,539.4l-10.2,23.5M1089.0,539.4l-11.3,27.3M1092.6,539.4l-11.6,31.1M1096.2,539.4l-11.3,30.4M1099.8,539.4l-8.3,20.7M1103.4,539.4l-9.2,22.9M1107.0,539.4l-9.5,24.0M1110.6,539.4l-8.6,22.0M1114.2,539.4l-9.4,23.9M1117.8,539.4l-8.6,18.1M1121.4,539.4l-8.1,14.9M1125.0,539.4l-7.4,12.4M1128.6,539.4l-6.1,11.4M1132.2,539.4l-2.4,9.2M1135.8,539.4l2.7,10.0M1139.4,539.4l1.9,20.9M1143.0,539.4l0.4,26.2M1146.6,539.4l-0.3,31.5M1150.2,539.4l-1.0,39.5M1153.8,539.4l-0.1,35.9M1157.4,539.4l-1.1,34.4M1161.0,539.4l-3.1,26.5M1164.6,539.4l-5.2,24.6M1168.2,539.4l-6.7,24.0M1171.8,539.4l-5.8,19.8M1175.4,539.4l-7.2,23.1M1179.0,539.4l-7.7,27.0M1182.6,539.4l-8.4,28.8M1186.2,539.4l-8.8,30.4M1189.8,539.4l-10.4,34.8M1193.4,539.4l-12.0,39.0M1197.0,539.4l-10.7,33.2M1200.6,539.4l-10.0,29.0M1204.2,539.4l-6.9,18.5M1207.8,539.4l-6.2,15.1M1211.4,539.4l-4.8,11.9" stroke="#000" stroke-width="3.2" stroke-linecap="butt" fill="none"/>
<path d="M140.0,695.0 L140.7,695.0 L142.1,695.0 L146.2,695.1 L147.5,695.1 L149.1,695.1 L150.7,695.1 L152.5,695.2 L154.5,695.2 L156.5,695.2 L158.7,695.2 L160.9,695.2 L163.2,695.2 L165.6,695.3 L167.9,695.3 L170.3,695.4 L172.7,695.4 L175.0,695.5 L177.3,695.6 L179.2,695.7 L181.1,695.8 L183.0,695.9 L184.9,696.0 L186.9,696.2 L188.8,696.3 L190.8,696.5 L192.8,696.6 L194.8,696.8 L196.8,697.0 L198.9,697.1 L201.0,697.3 L203.2,697.4 L205.4,697.6 L207.6,697.7 L209.9,697.9 L212.2,698.0 L214.6,698.1 L216.5,698.2 L218.4,698.3 L220.4,698.3 L222.5,698.4 L224.6,698.5 L226.7,698.6 L228.9,698.6 L231.2,698.7 L233.4,698.8 L235.7,698.9 L238.0,698.9 L240.2,699.0 L242.5,699.0 L244.7,699.1 L246.9,699.1 L249.1,699.2 L251.2,699.2 L253.3,699.3 L255.4,699.3 L257.3,699.3 L259.2,699.3 L261.0,699.3 L262.7,699.3 L264.3,699.3 L267.2,699.2 L269.8,699.1 L272.2,699.0 L274.3,698.8 L276.2,698.6 L278.0,698.4 L279.7,698.2 L281.4,698.0 L283.2,697.8 L285.0,697.6 L287.0,697.4 L289.2,697.3 L291.2,697.2 L293.3,697.1 L295.4,697.1 L297.5,697.0 L299.7,697.0 L301.9,697.0 L304.2,696.9 L306.4,696.9 L308.6,696.8 L310.8,696.8 L312.9,696.7 L315.1,696.6 L317.1,696.5 L319.1,696.3 L321.3,696.1 L323.4,695.8 L325.5,695.5 L327.5,695.1 L329.4,694.7 L331.3,694.4 L333.3,694.0 L335.3,693.6 L337.3,693.3 L339.4,692.9 L341.6,692.6 L343.9,692.4 L345.7,692.2 L347.7,692.1 L349.7,692.0 L351.8,691.9 L353.9,691.8 L356.0,691.7 L358.2,691.7 L360.4,691.6 L362.6,691.6 L364.7,691.5 L366.8,691.4 L368.9,691.4 L370.9,691.3 L372.8,691.3 L374.6,691.2 L376.3,691.1 L379.1,690.9 L381.7,690.7 L384.1,690.5 L386.4,690.2 L388.6,690.0 L390.6,689.8 L392.5,689.6 L394.4,689.5 L396.2,689.4 L398.7,689.4 L400.7,689.5 L402.6,689.7 L404.5,689.9 L406.4,690.2 L408.6,690.6 L410.4,690.9 L412.2,691.3 L414.1,691.7 L416.0,692.2 L418.0,692.7 L420.1,693.2 L422.4,693.8 L424.9,694.3 L426.7,694.7 L428.7,695.0 L430.8,695.4 L433.0,695.8 L435.3,696.2 L437.5,696.6 L439.8,697.1 L442.0,697.5 L444.2,697.9 L446.2,698.4 L448.0,698.8 L449.7,699.3 L452.5,700.3 L454.8,701.3 L456.7,702.3 L458.5,703.4 L460.3,704.4 L462.2,705.5 L464.2,706.5 L466.1,707.6 L467.9,708.6 L469.9,709.6 L472.1,710.7 L474.6,711.8 L476.3,712.5 L478.1,713.2 L480.1,714.0 L482.1,714.8 L484.2,715.6 L486.4,716.4 L488.5,717.1 L490.6,717.9 L492.6,718.6 L494.5,719.2 L496.5,719.8 L498.4,720.4 L500.2,721.0 L502.0,721.5 L503.8,722.0 L505.6,722.5 L507.6,723.0 L509.7,723.6 L511.9,724.2 L513.7,724.7 L515.7,725.4 L517.8,726.1 L519.9,726.8 L522.1,727.5 L524.4,728.2 L526.6,728.9 L528.8,729.6 L530.9,730.1 L533.0,730.6 L535.0,731.0 L536.8,731.2 L539.3,731.3 L541.6,731.1 L543.8,730.8 L545.8,730.3 L547.8,729.7 L549.9,729.1 L552.0,728.5 L554.2,727.9 L556.1,727.5 L558.0,727.0 L560.0,726.5 L562.0,726.0 L564.0,725.5 L566.0,724.9 L568.1,724.4 L570.1,723.9 L572.1,723.4 L574.1,722.9 L576.1,722.5 L578.1,722.1 L580.1,721.7 L582.2,721.3 L584.2,720.9 L586.2,720.5 L588.2,720.1 L590.2,719.7 L592.1,719.2 L594.0,718.7 L596.1,718.0 L598.1,717.3 L600.1,716.6 L602.0,715.8 L604.0,715.0 L605.9,714.2 L607.7,713.4 L609.6,712.6 L611.4,711.8 L613.3,711.0 L615.1,710.1 L616.8,709.2 L618.4,708.4 L620.2,707.5 L622.0,706.7 L624.1,706.0 L626.4,705.3 L628.1,704.9 L629.9,704.5 L631.9,704.1 L633.9,703.8 L635.9,703.5 L638.1,703.2 L640.2,702.9 L642.4,702.6 L644.6,702.3 L646.8,702.0 L649.0,701.6 L651.2,701.3 L653.2,701.0 L655.2,700.6 L657.3,700.2 L659.3,699.7 L661.4,699.3 L663.5,698.9 L665.6,698.5 L667.7,698.1 L669.8,697.7 L671.9,697.4 L674.0,697.1 L676.1,696.9 L678.2,696.8 L680.3,696.8 L682.4,696.8 L684.5,696.9 L686.7,697.1 L688.8,697.3 L691.0,697.5 L693.1,697.8 L695.2,698.0 L697.3,698.3 L699.4,698.5 L701.4,698.7 L703.4,698.9 L705.3,699.0 L707.5,699.1 L709.8,699.1 L712.0,699.0 L714.1,699.0 L716.2,698.9 L718.3,698.8 L720.3,698.8 L722.3,698.7 L724.2,698.6 L726.0,698.6 L727.8,698.6 L730.4,698.7 L732.7,698.7 L734.9,698.8 L737.0,699.0 L739.0,699.1 L741.0,699.3 L743.0,699.5 L745.3,699.8 L747.6,700.1 L749.8,700.5 L752.0,700.8 L754.0,701.2 L756.0,701.4 L758.1,701.6 L760.1,701.7 L761.9,701.7 L763.9,701.7 L766.0,701.7 L768.0,701.6 L770.0,701.5 L772.1,701.3 L774.3,701.1 L776.6,700.9 L779.0,700.8 L781.1,700.7 L783.4,700.7 L785.7,700.7 L788.1,700.7 L790.4,700.7 L792.7,700.8 L795.0,700.8 L797.2,700.9 L799.5,700.9 L801.8,701.0 L804.0,701.1 L806.2,701.2 L808.2,701.3 L810.0,701.4 L812.4,701.6 L814.2,701.9 L816.1,702.1 L819.0,702.1 L820.6,702.0 L822.3,701.8 L824.2,701.6 L826.2,701.3 L828.2,701.0 L830.4,700.7 L832.6,700.4 L834.8,700.1 L836.9,699.9 L839.0,699.6 L841.0,699.4 L843.1,699.1 L845.1,698.9 L847.1,698.6 L849.2,698.4 L851.3,698.2 L853.4,697.9 L855.5,697.7 L857.7,697.4 L860.0,697.2 L861.9,697.0 L863.9,696.8 L865.9,696.6 L867.9,696.4 L869.9,696.2 L872.0,696.0 L874.1,695.8 L876.2,695.6 L878.4,695.4 L880.5,695.1 L882.7,694.9 L884.9,694.6 L886.8,694.4 L888.7,694.1 L890.6,693.8 L892.6,693.5 L894.5,693.2 L896.5,692.9 L898.5,692.6 L900.5,692.3 L902.5,692.0 L904.6,691.7 L906.6,691.4 L908.7,691.1 L910.9,690.7 L913.0,690.4 L914.9,690.1 L916.9,689.8 L918.9,689.5 L920.9,689.2 L923.0,688.8 L925.1,688.5 L927.2,688.2 L929.3,687.8 L931.4,687.5 L933.5,687.2 L935.6,686.9 L937.6,686.6 L939.6,686.3 L941.6,686.0 L943.5,685.7 L945.3,685.5 L947.7,685.2 L950.0,684.9 L952.2,684.7 L954.4,684.4 L956.5,684.2 L958.6,684.0 L960.6,683.8 L962.6,683.7 L964.6,683.5 L966.6,683.4 L968.6,683.3 L970.6,683.3 L972.7,683.3 L974.7,683.3 L976.7,683.4 L978.6,683.4 L980.5,683.6 L982.5,683.7 L984.4,683.9 L986.4,684.1 L988.5,684.3 L990.7,684.5 L993.1,684.7 L994.9,684.9 L996.7,685.0 L998.6,685.2 L1000.5,685.3 L1002.5,685.5 L1004.5,685.7 L1006.5,685.8 L1008.5,686.0 L1010.6,686.3 L1012.8,686.5 L1014.9,686.8 L1017.1,687.1 L1019.4,687.5 L1021.7,687.9 L1024.0,688.4 L1025.8,688.8 L1027.7,689.3 L1029.6,689.7 L1031.5,690.3 L1033.6,690.9 L1035.6,691.5 L1037.7,692.1 L1039.8,692.7 L1041.9,693.4 L1044.0,694.0 L1046.1,694.7 L1048.2,695.3 L1050.2,696.0 L1052.3,696.6 L1054.3,697.2 L1056.2,697.7 L1058.1,698.3 L1059.9,698.8 L1061.6,699.2 L1063.3,699.6 L1065.9,700.2 L1068.3,700.6 L1070.5,701.0 L1072.7,701.3 L1074.7,701.5 L1076.6,701.7 L1078.6,701.9 L1080.5,702.0 L1082.4,702.2 L1084.4,702.4 L1086.4,702.7 L1088.6,703.0 L1090.5,703.3 L1092.5,703.7 L1094.4,704.1 L1096.4,704.5 L1098.4,704.9 L1100.4,705.3 L1102.5,705.7 L1104.5,706.1 L1106.5,706.5 L1108.6,706.9 L1110.6,707.3 L1112.7,707.5 L1114.7,707.8 L1116.7,708.0 L1118.7,708.1 L1120.7,708.2 L1122.7,708.2 L1124.7,708.2 L1126.7,708.2 L1128.7,708.1 L1130.8,708.0 L1132.8,707.9 L1134.8,707.8 L1136.8,707.8 L1138.8,707.7 L1140.8,707.7 L1142.8,707.7 L1144.8,707.7 L1146.8,707.8 L1148.9,707.9 L1150.9,708.1 L1153.0,708.3 L1155.1,708.5 L1157.1,708.8 L1159.2,709.0 L1161.2,709.2 L1163.3,709.4 L1165.3,709.6 L1167.2,709.8 L1169.2,709.9 L1171.1,710.0 L1172.9,710.0 L1175.2,709.9 L1177.4,709.8 L1179.6,709.5 L1181.8,709.2 L1183.9,708.9 L1186.0,708.6 L1188.0,708.2 L1189.9,707.9 L1191.8,707.6 L1193.6,707.4 L1195.4,707.2 L1198.0,707.1 L1200.6,707.0 L1202.9,707.0 L1205.1,707.1 L1207.2,707.1 L1209.1,707.2 L1210.8,707.2 L1214.1,707.1 L1216.4,707.1 L1218.0,707.0" fill="none" stroke="#EC1C24" stroke-width="3.8" stroke-linejoin="round"/>
<path d="M140.0,737.0 L141.1,736.5 L143.0,735.6 L146.2,734.1 L147.5,733.5 L149.0,732.8 L150.7,732.0 L152.5,731.1 L154.4,730.2 L156.4,729.2 L158.4,728.3 L160.6,727.3 L162.7,726.3 L164.9,725.4 L166.6,724.7 L168.4,723.9 L170.3,723.2 L172.2,722.4 L174.1,721.7 L176.1,720.9 L178.1,720.1 L180.1,719.4 L182.0,718.6 L184.0,717.8 L186.0,717.0 L187.9,716.3 L189.7,715.5 L191.7,714.7 L193.7,713.8 L195.7,712.9 L197.7,712.1 L199.7,711.2 L201.7,710.3 L203.6,709.5 L205.5,708.6 L207.3,707.8 L209.0,707.0 L210.6,706.2 L212.1,705.5 L214.3,704.4 L216.2,703.4 L217.8,702.5 L219.3,701.6 L220.8,700.6 L222.5,699.5 L224.6,698.1 L226.0,697.2 L227.5,696.2 L229.0,695.2 L230.7,694.1 L232.3,693.0 L234.0,691.8 L235.8,690.6 L237.5,689.4 L239.3,688.1 L241.0,686.9 L242.7,685.6 L244.4,684.4 L246.1,683.1 L247.7,681.9 L249.4,680.6 L251.0,679.3 L252.7,677.9 L254.3,676.6 L256.0,675.2 L257.7,673.9 L259.3,672.5 L261.0,671.1 L262.6,669.6 L264.3,668.2 L265.8,666.9 L267.4,665.5 L268.9,664.1 L270.4,662.7 L272.0,661.3 L273.5,659.9 L275.0,658.5 L276.5,657.1 L278.1,655.6 L279.6,654.1 L281.1,652.6 L282.7,651.1 L284.2,649.6 L285.6,648.2 L287.0,646.7 L288.5,645.2 L289.9,643.7 L291.3,642.2 L292.7,640.6 L294.1,639.1 L295.6,637.5 L297.0,636.0 L298.4,634.4 L299.8,632.9 L301.3,631.4 L302.7,629.9 L304.1,628.4 L305.5,626.9 L306.9,625.5 L308.4,624.0 L309.8,622.5 L311.2,621.0 L312.6,619.6 L314.1,618.1 L315.5,616.7 L316.9,615.3 L318.3,613.9 L319.7,612.5 L321.2,611.1 L322.6,609.8 L324.0,608.5 L325.7,607.0 L327.3,605.5 L329.0,604.0 L330.7,602.5 L332.4,601.0 L334.0,599.5 L335.7,598.2 L337.4,596.8 L339.0,595.6 L340.7,594.4 L342.3,593.4 L343.9,592.4 L346.0,591.3 L348.1,590.3 L350.1,589.4 L352.2,588.6 L354.2,588.0 L356.2,587.5 L358.3,587.2 L360.4,587.0 L362.6,586.9 L364.6,587.0 L366.7,587.2 L368.9,587.6 L371.1,588.1 L373.3,588.7 L375.5,589.4 L377.6,590.1 L379.7,590.8 L381.8,591.6 L383.7,592.4 L385.7,593.3 L387.7,594.2 L389.5,595.1 L391.4,596.2 L393.1,597.2 L394.8,598.4 L396.6,599.6 L398.3,600.9 L400.0,602.3 L401.4,603.5 L402.8,604.8 L404.2,606.1 L405.5,607.5 L406.9,609.0 L408.2,610.5 L409.5,612.0 L410.9,613.6 L412.2,615.2 L413.6,616.8 L414.9,618.5 L416.1,620.1 L417.4,621.7 L418.6,623.3 L419.9,625.0 L421.1,626.7 L422.3,628.5 L423.6,630.2 L424.8,632.0 L426.1,633.9 L427.3,635.8 L428.6,637.7 L429.8,639.6 L430.9,641.3 L431.9,643.0 L433.0,644.6 L434.1,646.4 L435.2,648.1 L436.2,649.8 L437.3,651.6 L438.4,653.4 L439.4,655.3 L440.5,657.2 L441.6,659.1 L442.7,661.1 L443.7,663.2 L444.8,665.3 L445.6,667.0 L446.5,668.8 L447.3,670.6 L448.1,672.5 L448.9,674.4 L449.8,676.3 L450.6,678.3 L451.4,680.3 L452.3,682.3 L453.1,684.3 L453.9,686.3 L454.7,688.4 L455.6,690.3 L456.4,692.3 L457.2,694.2 L458.0,696.1 L458.9,698.0 L459.7,699.8 L460.6,701.8 L461.6,703.7 L462.5,705.7 L463.4,707.6 L464.4,709.4 L465.3,711.3 L466.2,713.1 L467.1,715.0 L468.1,716.8 L469.0,718.6 L469.9,720.3 L470.9,722.1 L471.8,723.9 L472.7,725.7 L473.7,727.4 L474.6,729.2 L475.6,731.1 L476.6,733.0 L477.6,734.8 L478.6,736.7 L479.6,738.5 L480.6,740.4 L481.5,742.2 L482.5,744.0 L483.5,745.9 L484.5,747.7 L485.5,749.4 L486.5,751.2 L487.5,753.0 L488.5,754.8 L489.5,756.5 L490.6,758.4 L491.6,760.2 L492.7,762.1 L493.8,763.9 L494.9,765.7 L496.0,767.5 L497.1,769.3 L498.2,771.1 L499.2,772.9 L500.3,774.6 L501.4,776.4 L502.4,778.1 L503.5,779.7 L504.5,781.4 L505.7,783.3 L506.8,785.2 L508.0,787.0 L509.1,788.9 L510.2,790.7 L511.3,792.4 L512.5,794.2 L513.6,795.9 L514.7,797.6 L515.9,799.3 L517.1,801.0 L518.3,802.6 L519.5,804.2 L520.8,805.9 L522.0,807.6 L523.3,809.2 L524.5,810.8 L525.8,812.4 L527.1,814.0 L528.4,815.5 L529.8,816.9 L531.2,818.3 L532.6,819.5 L534.1,820.7 L535.9,822.0 L537.9,823.2 L539.8,824.4 L541.9,825.4 L543.9,826.4 L546.0,827.2 L548.1,827.9 L550.2,828.5 L552.3,828.9 L554.3,829.2 L556.3,829.3 L558.4,829.3 L560.5,829.1 L562.5,828.7 L564.6,828.3 L566.6,827.7 L568.7,827.1 L570.7,826.4 L572.7,825.6 L574.6,824.7 L576.3,823.9 L578.0,822.9 L579.7,821.9 L581.3,820.9 L582.9,819.7 L584.5,818.5 L586.1,817.2 L587.7,815.9 L589.4,814.5 L591.0,813.1 L592.6,811.6 L594.0,810.3 L595.4,808.9 L596.8,807.5 L598.2,806.0 L599.6,804.5 L601.0,802.9 L602.3,801.3 L603.7,799.7 L605.1,798.0 L606.5,796.4 L607.9,794.7 L609.3,793.1 L610.7,791.4 L612.0,789.9 L613.3,788.3 L614.6,786.7 L615.9,785.0 L617.1,783.4 L618.4,781.8 L619.7,780.1 L621.0,778.4 L622.3,776.8 L623.6,775.2 L624.8,773.5 L626.1,771.9 L627.4,770.3 L628.7,768.8 L630.1,767.2 L631.5,765.5 L632.9,763.9 L634.2,762.3 L635.6,760.8 L637.0,759.2 L638.4,757.6 L639.8,756.1 L641.2,754.6 L642.5,753.1 L643.9,751.6 L645.3,750.1 L646.7,748.6 L648.2,747.0 L649.7,745.4 L651.2,743.7 L652.7,742.1 L654.2,740.5 L655.7,738.9 L657.2,737.4 L658.7,735.9 L660.2,734.4 L661.7,733.0 L663.2,731.7 L664.7,730.5 L666.5,729.1 L668.4,727.9 L670.2,726.7 L672.1,725.5 L674.0,724.5 L675.8,723.5 L677.6,722.6 L679.4,721.8 L681.1,721.1 L682.7,720.4 L685.1,719.5 L687.2,718.7 L689.2,718.2 L691.3,717.9 L693.6,717.7 L696.3,717.5 L698.0,717.5 L699.8,717.5 L701.7,717.5 L703.7,717.6 L705.8,717.7 L707.9,717.8 L710.0,718.0 L712.2,718.2 L714.4,718.4 L716.6,718.6 L718.8,718.8 L720.9,719.0 L723.0,719.3 L725.2,719.5 L727.5,719.8 L729.8,720.1 L732.1,720.5 L734.3,720.8 L736.5,721.1 L738.7,721.4 L740.7,721.7 L742.6,722.0 L744.3,722.2 L746.9,722.6 L749.1,723.1 L751.0,723.5 L752.8,723.9 L754.5,724.2 L756.4,724.3 L758.4,724.1 L760.4,723.7 L762.6,723.1 L764.9,722.3 L767.1,721.4 L769.4,720.5 L771.5,719.6 L773.4,718.7 L775.0,718.0 L777.4,716.9 L779.1,716.0 L780.5,715.1 L782.0,714.0 L783.8,712.7 L785.5,711.3 L787.3,709.8 L789.0,708.2 L790.7,706.6 L792.5,704.8 L794.2,703.0 L796.0,701.2 L797.4,699.7 L798.8,698.2 L800.2,696.6 L801.6,695.0 L803.0,693.4 L804.4,691.7 L805.8,690.0 L807.2,688.2 L808.6,686.4 L810.0,684.6 L811.4,682.7 L812.8,680.9 L814.2,678.9 L815.6,677.0 L817.0,675.0 L818.2,673.3 L819.3,671.6 L820.5,669.9 L821.7,668.2 L822.8,666.4 L824.0,664.6 L825.2,662.8 L826.3,660.9 L827.5,659.1 L828.7,657.2 L829.8,655.3 L831.0,653.4 L832.2,651.5 L833.3,649.5 L834.5,647.6 L835.7,645.6 L836.8,643.6 L838.0,641.6 L839.0,639.9 L840.0,638.1 L841.0,636.4 L842.0,634.6 L843.0,632.9 L844.0,631.1 L845.0,629.4 L846.2,627.4 L847.3,625.4 L848.5,623.3 L849.7,621.3 L850.8,619.4 L852.0,617.4 L853.2,615.5 L854.3,613.5 L855.5,611.6 L856.7,609.7 L857.8,607.8 L859.0,606.0 L860.2,604.2 L861.3,602.4 L862.5,600.7 L863.7,598.9 L864.8,597.3 L866.0,595.6 L867.4,593.7 L868.8,591.8 L870.2,589.9 L871.6,588.1 L873.0,586.4 L874.4,584.7 L875.8,583.1 L877.2,581.6 L878.6,580.1 L880.0,578.6 L881.8,576.8 L883.5,575.0 L885.2,573.3 L887.0,571.6 L888.8,570.0 L890.5,568.5 L892.2,567.0 L894.0,565.6 L895.7,564.3 L897.5,563.1 L899.2,562.0 L901.0,561.0 L903.3,559.8 L905.7,558.8 L908.0,558.0 L910.3,557.4 L912.7,557.0 L915.0,556.9 L917.3,557.1 L919.7,557.5 L922.0,558.3 L923.8,559.1 L925.5,560.0 L927.2,561.1 L929.0,562.3 L930.8,563.7 L932.6,565.3 L934.4,566.9 L936.0,568.4 L937.5,569.7 L938.8,570.9 L941.0,573.5 L941.9,574.7 L943.0,576.0 L944.1,577.5 L945.3,579.1 L946.6,580.8 L947.9,582.6 L949.3,584.5 L950.8,586.5 L952.2,588.5 L953.7,590.6 L954.7,592.0 L955.7,593.5 L956.8,595.0 L957.9,596.5 L959.0,598.1 L960.2,599.7 L961.3,601.4 L962.5,603.1 L963.6,604.8 L964.8,606.5 L966.0,608.3 L967.2,610.2 L968.3,612.0 L969.5,614.0 L970.6,615.9 L971.5,617.6 L972.5,619.3 L973.4,621.0 L974.3,622.8 L975.3,624.6 L976.2,626.4 L977.1,628.3 L978.1,630.1 L979.0,632.0 L979.9,634.0 L980.9,635.9 L981.8,637.8 L982.7,639.8 L983.7,641.8 L984.6,643.7 L985.5,645.7 L986.5,647.6 L987.4,649.6 L988.2,651.4 L989.1,653.1 L989.9,655.0 L990.8,656.8 L991.6,658.6 L992.5,660.4 L993.3,662.3 L994.2,664.1 L995.0,666.0 L995.8,667.9 L996.7,669.7 L997.5,671.6 L998.4,673.4 L999.2,675.3 L1000.1,677.1 L1000.9,678.9 L1001.8,680.7 L1002.6,682.6 L1003.5,684.3 L1004.3,686.1 L1005.2,688.0 L1006.2,690.0 L1007.1,691.9 L1008.1,693.8 L1009.0,695.7 L1009.9,697.5 L1010.9,699.4 L1011.8,701.3 L1012.8,703.1 L1013.7,705.0 L1014.6,706.8 L1015.6,708.7 L1016.5,710.5 L1017.5,712.4 L1018.4,714.2 L1019.3,716.1 L1020.3,717.9 L1021.2,719.8 L1022.1,721.7 L1023.1,723.6 L1024.0,725.5 L1024.9,727.5 L1025.9,729.4 L1026.8,731.3 L1027.7,733.3 L1028.7,735.2 L1029.6,737.2 L1030.5,739.1 L1031.5,741.0 L1032.4,742.9 L1033.3,744.7 L1034.3,746.6 L1035.2,748.4 L1036.1,750.1 L1037.1,751.8 L1038.0,753.5 L1039.1,755.5 L1040.2,757.4 L1041.4,759.3 L1042.5,761.3 L1043.6,763.1 L1044.8,765.0 L1045.9,766.8 L1047.0,768.5 L1048.1,770.2 L1049.3,771.8 L1050.4,773.4 L1051.5,774.9 L1052.7,776.3 L1053.8,777.6 L1054.9,778.8 L1056.8,780.6 L1058.6,782.2 L1060.5,783.6 L1062.4,784.7 L1064.2,785.7 L1066.1,786.6 L1068.0,787.4 L1069.8,788.1 L1071.7,788.7 L1073.8,789.3 L1075.8,789.8 L1077.8,790.2 L1079.8,790.5 L1081.8,790.6 L1084.0,790.5 L1086.2,790.4 L1088.6,790.1 L1090.4,789.8 L1092.4,789.4 L1094.3,789.0 L1096.4,788.5 L1098.5,787.9 L1100.6,787.3 L1102.7,786.6 L1104.8,785.8 L1106.9,784.9 L1109.0,784.0 L1111.1,783.0 L1112.8,782.1 L1114.6,781.1 L1116.3,780.1 L1118.0,779.0 L1119.7,777.9 L1121.4,776.7 L1123.2,775.5 L1124.9,774.2 L1126.6,772.9 L1128.3,771.6 L1130.0,770.3 L1131.8,768.9 L1133.5,767.6 L1135.1,766.3 L1136.7,765.0 L1138.3,763.7 L1139.9,762.3 L1141.5,760.9 L1143.1,759.5 L1144.7,758.0 L1146.4,756.6 L1148.0,755.1 L1149.6,753.6 L1151.2,752.2 L1152.8,750.7 L1154.4,749.3 L1156.0,747.9 L1157.6,746.5 L1159.2,745.1 L1160.9,743.7 L1162.5,742.3 L1164.2,740.9 L1165.8,739.5 L1167.4,738.1 L1169.1,736.7 L1170.7,735.3 L1172.3,733.9 L1173.9,732.5 L1175.4,731.1 L1177.0,729.7 L1178.5,728.3 L1180.1,726.8 L1181.8,725.2 L1183.4,723.5 L1185.0,721.9 L1186.6,720.2 L1188.2,718.6 L1189.7,717.0 L1191.3,715.4 L1192.8,713.9 L1194.2,712.4 L1195.6,711.0 L1196.9,709.8 L1198.2,708.6 L1200.4,706.7 L1202.5,705.1 L1204.4,703.8 L1206.2,702.7 L1207.8,701.6 L1209.3,700.6 L1210.8,699.6 L1213.1,697.8 L1215.2,696.2 L1216.8,694.9 L1218.0,694.0" fill="none" stroke="#3650A2" stroke-width="3.8" stroke-linejoin="round"/>
</g>
<rect x="146.6" y="26.9" width="1065.0" height="370.3" fill="none" stroke="#262626" stroke-width="1.1"/>
<line x1="146.60" y1="397.2" x2="146.60" y2="386.7" stroke="#262626" stroke-width="1.1"/>
<line x1="146.60" y1="26.9" x2="146.60" y2="37.4" stroke="#262626" stroke-width="1.1"/>
<line x1="245.21" y1="397.2" x2="245.21" y2="386.7" stroke="#262626" stroke-width="1.1"/>
<line x1="245.21" y1="26.9" x2="245.21" y2="37.4" stroke="#262626" stroke-width="1.1"/>
<line x1="343.82" y1="397.2" x2="343.82" y2="386.7" stroke="#262626" stroke-width="1.1"/>
<line x1="343.82" y1="26.9" x2="343.82" y2="37.4" stroke="#262626" stroke-width="1.1"/>
<line x1="442.43" y1="397.2" x2="442.43" y2="386.7" stroke="#262626" stroke-width="1.1"/>
<line x1="442.43" y1="26.9" x2="442.43" y2="37.4" stroke="#262626" stroke-width="1.1"/>
<line x1="541.04" y1="397.2" x2="541.04" y2="386.7" stroke="#262626" stroke-width="1.1"/>
<line x1="541.04" y1="26.9" x2="541.04" y2="37.4" stroke="#262626" stroke-width="1.1"/>
<line x1="639.66" y1="397.2" x2="639.66" y2="386.7" stroke="#262626" stroke-width="1.1"/>
<line x1="639.66" y1="26.9" x2="639.66" y2="37.4" stroke="#262626" stroke-width="1.1"/>
<line x1="738.27" y1="397.2" x2="738.27" y2="386.7" stroke="#262626" stroke-width="1.1"/>
<line x1="738.27" y1="26.9" x2="738.27" y2="37.4" stroke="#262626" stroke-width="1.1"/>
<line x1="836.88" y1="397.2" x2="836.88" y2="386.7" stroke="#262626" stroke-width="1.1"/>
<line x1="836.88" y1="26.9" x2="836.88" y2="37.4" stroke="#262626" stroke-width="1.1"/>
<line x1="935.49" y1="397.2" x2="935.49" y2="386.7" stroke="#262626" stroke-width="1.1"/>
<line x1="935.49" y1="26.9" x2="935.49" y2="37.4" stroke="#262626" stroke-width="1.1"/>
<line x1="1034.10" y1="397.2" x2="1034.10" y2="386.7" stroke="#262626" stroke-width="1.1"/>
<line x1="1034.10" y1="26.9" x2="1034.10" y2="37.4" stroke="#262626" stroke-width="1.1"/>
<line x1="1132.71" y1="397.2" x2="1132.71" y2="386.7" stroke="#262626" stroke-width="1.1"/>
<line x1="1132.71" y1="26.9" x2="1132.71" y2="37.4" stroke="#262626" stroke-width="1.1"/>
<text x="136.3" y="405.3" font-size="23" font-weight="normal" fill="#262626" stroke="#262626" text-anchor="end" textLength="38.2" lengthAdjust="spacingAndGlyphs" >-10</text>
<line x1="146.6" y1="319.95" x2="157.1" y2="319.95" stroke="#262626" stroke-width="1.1"/>
<line x1="1211.6" y1="319.95" x2="1201.1" y2="319.95" stroke="#262626" stroke-width="1.1"/>
<text x="136.3" y="328.2" font-size="23" font-weight="normal" fill="#262626" stroke="#262626" text-anchor="end" textLength="23.5" lengthAdjust="spacingAndGlyphs" >-5</text>
<line x1="146.6" y1="242.80" x2="157.1" y2="242.80" stroke="#262626" stroke-width="1.1"/>
<line x1="1211.6" y1="242.80" x2="1201.1" y2="242.80" stroke="#262626" stroke-width="1.1"/>
<text x="136.3" y="251.0" font-size="23" font-weight="normal" fill="#262626" stroke="#262626" text-anchor="end" textLength="14.7" lengthAdjust="spacingAndGlyphs" >0</text>
<line x1="146.6" y1="165.65" x2="157.1" y2="165.65" stroke="#262626" stroke-width="1.1"/>
<line x1="1211.6" y1="165.65" x2="1201.1" y2="165.65" stroke="#262626" stroke-width="1.1"/>
<text x="136.3" y="173.8" font-size="23" font-weight="normal" fill="#262626" stroke="#262626" text-anchor="end" textLength="14.7" lengthAdjust="spacingAndGlyphs" >5</text>
<line x1="146.6" y1="88.50" x2="157.1" y2="88.50" stroke="#262626" stroke-width="1.1"/>
<line x1="1211.6" y1="88.50" x2="1201.1" y2="88.50" stroke="#262626" stroke-width="1.1"/>
<text x="136.3" y="96.7" font-size="23" font-weight="normal" fill="#262626" stroke="#262626" text-anchor="end" textLength="29.4" lengthAdjust="spacingAndGlyphs" >10</text>
<text x="145.8" y="429.0" font-size="23" font-weight="normal" fill="#262626" stroke="#262626" text-anchor="middle" textLength="63.8" lengthAdjust="spacingAndGlyphs" >08/17</text>
<text x="244.4" y="429.0" font-size="23" font-weight="normal" fill="#262626" stroke="#262626" text-anchor="middle" textLength="63.8" lengthAdjust="spacingAndGlyphs" >08/22</text>
<text x="343.0" y="429.0" font-size="23" font-weight="normal" fill="#262626" stroke="#262626" text-anchor="middle" textLength="63.8" lengthAdjust="spacingAndGlyphs" >08/27</text>
<text x="441.6" y="429.0" font-size="23" font-weight="normal" fill="#262626" stroke="#262626" text-anchor="middle" textLength="63.8" lengthAdjust="spacingAndGlyphs" >09/01</text>
<text x="540.2" y="429.0" font-size="23" font-weight="normal" fill="#262626" stroke="#262626" text-anchor="middle" textLength="63.8" lengthAdjust="spacingAndGlyphs" >09/06</text>
<text x="638.9" y="429.0" font-size="23" font-weight="normal" fill="#262626" stroke="#262626" text-anchor="middle" textLength="63.8" lengthAdjust="spacingAndGlyphs" >09/11</text>
<text x="737.5" y="429.0" font-size="23" font-weight="normal" fill="#262626" stroke="#262626" text-anchor="middle" textLength="63.8" lengthAdjust="spacingAndGlyphs" >09/16</text>
<text x="836.1" y="429.0" font-size="23" font-weight="normal" fill="#262626" stroke="#262626" text-anchor="middle" textLength="63.8" lengthAdjust="spacingAndGlyphs" >09/21</text>
<text x="934.7" y="429.0" font-size="23" font-weight="normal" fill="#262626" stroke="#262626" text-anchor="middle" textLength="63.8" lengthAdjust="spacingAndGlyphs" >09/26</text>
<text x="1033.3" y="429.0" font-size="23" font-weight="normal" fill="#262626" stroke="#262626" text-anchor="middle" textLength="63.8" lengthAdjust="spacingAndGlyphs" >10/01</text>
<text x="1131.9" y="429.0" font-size="23" font-weight="normal" fill="#262626" stroke="#262626" text-anchor="middle" textLength="63.8" lengthAdjust="spacingAndGlyphs" >10/06</text>
<rect x="146.6" y="485.0" width="1065.0" height="370.29999999999995" fill="none" stroke="#262626" stroke-width="1.1"/>
<line x1="146.60" y1="855.3" x2="146.60" y2="844.8" stroke="#262626" stroke-width="1.1"/>
<line x1="146.60" y1="485.0" x2="146.60" y2="495.5" stroke="#262626" stroke-width="1.1"/>
<line x1="253.10" y1="855.3" x2="253.10" y2="844.8" stroke="#262626" stroke-width="1.1"/>
<line x1="253.10" y1="485.0" x2="253.10" y2="495.5" stroke="#262626" stroke-width="1.1"/>
<line x1="359.60" y1="855.3" x2="359.60" y2="844.8" stroke="#262626" stroke-width="1.1"/>
<line x1="359.60" y1="485.0" x2="359.60" y2="495.5" stroke="#262626" stroke-width="1.1"/>
<line x1="466.10" y1="855.3" x2="466.10" y2="844.8" stroke="#262626" stroke-width="1.1"/>
<line x1="466.10" y1="485.0" x2="466.10" y2="495.5" stroke="#262626" stroke-width="1.1"/>
<line x1="572.60" y1="855.3" x2="572.60" y2="844.8" stroke="#262626" stroke-width="1.1"/>
<line x1="572.60" y1="485.0" x2="572.60" y2="495.5" stroke="#262626" stroke-width="1.1"/>
<line x1="679.10" y1="855.3" x2="679.10" y2="844.8" stroke="#262626" stroke-width="1.1"/>
<line x1="679.10" y1="485.0" x2="679.10" y2="495.5" stroke="#262626" stroke-width="1.1"/>
<line x1="785.60" y1="855.3" x2="785.60" y2="844.8" stroke="#262626" stroke-width="1.1"/>
<line x1="785.60" y1="485.0" x2="785.60" y2="495.5" stroke="#262626" stroke-width="1.1"/>
<line x1="892.10" y1="855.3" x2="892.10" y2="844.8" stroke="#262626" stroke-width="1.1"/>
<line x1="892.10" y1="485.0" x2="892.10" y2="495.5" stroke="#262626" stroke-width="1.1"/>
<line x1="998.60" y1="855.3" x2="998.60" y2="844.8" stroke="#262626" stroke-width="1.1"/>
<line x1="998.60" y1="485.0" x2="998.60" y2="495.5" stroke="#262626" stroke-width="1.1"/>
<line x1="1105.10" y1="855.3" x2="1105.10" y2="844.8" stroke="#262626" stroke-width="1.1"/>
<line x1="1105.10" y1="485.0" x2="1105.10" y2="495.5" stroke="#262626" stroke-width="1.1"/>
<line x1="1211.60" y1="855.3" x2="1211.60" y2="844.8" stroke="#262626" stroke-width="1.1"/>
<line x1="1211.60" y1="485.0" x2="1211.60" y2="495.5" stroke="#262626" stroke-width="1.1"/>
<text x="136.3" y="863.5" font-size="23" font-weight="normal" fill="#262626" stroke="#262626" text-anchor="end" textLength="38.2" lengthAdjust="spacingAndGlyphs" >-10</text>
<line x1="146.6" y1="778.15" x2="157.1" y2="778.15" stroke="#262626" stroke-width="1.1"/>
<line x1="1211.6" y1="778.15" x2="1201.1" y2="778.15" stroke="#262626" stroke-width="1.1"/>
<text x="136.3" y="786.4" font-size="23" font-weight="normal" fill="#262626" stroke="#262626" text-anchor="end" textLength="23.5" lengthAdjust="spacingAndGlyphs" >-5</text>
<line x1="146.6" y1="701.00" x2="157.1" y2="701.00" stroke="#262626" stroke-width="1.1"/>
<line x1="1211.6" y1="701.00" x2="1201.1" y2="701.00" stroke="#262626" stroke-width="1.1"/>
<text x="136.3" y="709.2" font-size="23" font-weight="normal" fill="#262626" stroke="#262626" text-anchor="end" textLength="14.7" lengthAdjust="spacingAndGlyphs" >0</text>
<line x1="146.6" y1="623.85" x2="157.1" y2="623.85" stroke="#262626" stroke-width="1.1"/>
<line x1="1211.6" y1="623.85" x2="1201.1" y2="623.85" stroke="#262626" stroke-width="1.1"/>
<text x="136.3" y="632.1" font-size="23" font-weight="normal" fill="#262626" stroke="#262626" text-anchor="end" textLength="14.7" lengthAdjust="spacingAndGlyphs" >5</text>
<line x1="146.6" y1="546.70" x2="157.1" y2="546.70" stroke="#262626" stroke-width="1.1"/>
<line x1="1211.6" y1="546.70" x2="1201.1" y2="546.70" stroke="#262626" stroke-width="1.1"/>
<text x="136.3" y="554.9" font-size="23" font-weight="normal" fill="#262626" stroke="#262626" text-anchor="end" textLength="29.4" lengthAdjust="spacingAndGlyphs" >10</text>
<text x="145.8" y="887.1" font-size="23" font-weight="normal" fill="#262626" stroke="#262626" text-anchor="middle" textLength="63.8" lengthAdjust="spacingAndGlyphs" >09/14</text>
<text x="252.3" y="887.1" font-size="23" font-weight="normal" fill="#262626" stroke="#262626" text-anchor="middle" textLength="63.8" lengthAdjust="spacingAndGlyphs" >09/16</text>
<text x="358.8" y="887.1" font-size="23" font-weight="normal" fill="#262626" stroke="#262626" text-anchor="middle" textLength="63.8" lengthAdjust="spacingAndGlyphs" >09/18</text>
<text x="465.3" y="887.1" font-size="23" font-weight="normal" fill="#262626" stroke="#262626" text-anchor="middle" textLength="63.8" lengthAdjust="spacingAndGlyphs" >09/20</text>
<text x="571.8" y="887.1" font-size="23" font-weight="normal" fill="#262626" stroke="#262626" text-anchor="middle" textLength="63.8" lengthAdjust="spacingAndGlyphs" >09/22</text>
<text x="678.3" y="887.1" font-size="23" font-weight="normal" fill="#262626" stroke="#262626" text-anchor="middle" textLength="63.8" lengthAdjust="spacingAndGlyphs" >09/24</text>
<text x="784.8" y="887.1" font-size="23" font-weight="normal" fill="#262626" stroke="#262626" text-anchor="middle" textLength="63.8" lengthAdjust="spacingAndGlyphs" >09/26</text>
<text x="891.3" y="887.1" font-size="23" font-weight="normal" fill="#262626" stroke="#262626" text-anchor="middle" textLength="63.8" lengthAdjust="spacingAndGlyphs" >09/28</text>
<text x="997.8" y="887.1" font-size="23" font-weight="normal" fill="#262626" stroke="#262626" text-anchor="middle" textLength="63.8" lengthAdjust="spacingAndGlyphs" >09/30</text>
<text x="1104.3" y="887.1" font-size="23" font-weight="normal" fill="#262626" stroke="#262626" text-anchor="middle" textLength="63.8" lengthAdjust="spacingAndGlyphs" >10/02</text>
<text x="1210.8" y="887.1" font-size="23" font-weight="normal" fill="#262626" stroke="#262626" text-anchor="middle" textLength="63.8" lengthAdjust="spacingAndGlyphs" >10/04</text>
<line x1="698.82" y1="397.2" x2="146.6" y2="485.0" stroke="#000" stroke-width="1.7"/>
<line x1="1093.27" y1="397.2" x2="1211.6" y2="485.0" stroke="#000" stroke-width="1.7"/>
<line x1="836.88" y1="397.2" x2="836.88" y2="26.9" stroke="#000" stroke-width="4.8" stroke-dasharray="17.2 17.2"/>
<line x1="1003.67" y1="397.2" x2="1003.67" y2="26.9" stroke="#000" stroke-width="4.8" stroke-dasharray="17.2 17.2"/>
<line x1="519.35" y1="855.3" x2="519.35" y2="485.0" stroke="#000" stroke-width="4.8" stroke-dasharray="17.2 17.2"/>
<line x1="969.69" y1="855.3" x2="969.69" y2="485.0" stroke="#000" stroke-width="4.8" stroke-dasharray="17.2 17.2"/>
<polygon points="452.9,849.5 479.3,849.5 466.1,827" fill="#000"/>
<polygon points="559.4,849.5 585.8,849.5 572.6,827" fill="#000"/>
<polygon points="772.4,849.5 798.8,849.5 785.6,827" fill="#000"/>
<polygon points="958.8,849.5 985.2,849.5 972.0,827" fill="#000"/>
<line x1="1113.1" y1="34.5" x2="1152.9" y2="34.5" stroke="#000" stroke-width="3.4"/>
<line x1="1105" y1="500.5" x2="1158.8" y2="500.5" stroke="#000" stroke-width="3.4"/>
<text x="1094.2" y="57.4" font-size="23" font-weight="normal" fill="#000" stroke="#000" text-anchor="start" textLength="77.0" lengthAdjust="spacingAndGlyphs" >10 m/s</text>
<text x="1090.3" y="523.9" font-size="23" font-weight="normal" fill="#000" stroke="#000" text-anchor="start" textLength="77.0" lengthAdjust="spacingAndGlyphs" >10 m/s</text>
<text x="776.8" y="20.9" font-size="27" font-weight="normal" fill="#000" stroke="#000" text-anchor="start" textLength="119.8" lengthAdjust="spacingAndGlyphs" >Typhoon</text>
<text x="925.5" y="20.5" font-size="27" font-weight="normal" fill="#000" stroke="#000" text-anchor="start" textLength="195.0" lengthAdjust="spacingAndGlyphs" >Abnormal tide</text>
<text x="464.5" y="479.2" font-size="27" font-weight="normal" fill="#000" stroke="#000" text-anchor="start" textLength="119.8" lengthAdjust="spacingAndGlyphs" >Typhoon</text>
<text x="892.2" y="479.2" font-size="27" font-weight="normal" fill="#000" stroke="#000" text-anchor="start" textLength="194.0" lengthAdjust="spacingAndGlyphs" >Abnormal tide</text>
<text x="0.6" y="24.8" font-size="30" font-weight="bold" fill="#000" stroke="#000" text-anchor="start" >A</text>
<text x="1.6" y="472.9" font-size="30" font-weight="bold" fill="#000" stroke="#000" text-anchor="start" >B</text>
<rect x="149.7" y="334.3" width="213.9" height="56.9" fill="#fff" stroke="#262626" stroke-width="1.1"/>
<line x1="156.4" y1="350.6" x2="225.3" y2="350.6" stroke="#EC1C24" stroke-width="4"/>
<line x1="156.4" y1="376" x2="225.3" y2="376" stroke="#3650A2" stroke-width="4"/>
<text x="229.5" y="357.8" font-size="20.5" font-weight="normal" fill="#000" stroke="#000" text-anchor="start" textLength="63.5" lengthAdjust="spacingAndGlyphs" >Model</text>
<text x="230.5" y="382.5" font-size="20.5" font-weight="normal" fill="#000" stroke="#000" text-anchor="start" textLength="126.0" lengthAdjust="spacingAndGlyphs" >Observation</text>
<text x="0" y="0" font-size="28.5" fill="#000" stroke="#000" text-anchor="middle" textLength="151.5" lengthAdjust="spacingAndGlyphs" transform="translate(21.4,211.7) rotate(-90)">4 - 15 days</text>
<text x="0" y="0" font-size="28.5" fill="#000" stroke="#000" text-anchor="middle" textLength="245.5" lengthAdjust="spacingAndGlyphs" transform="translate(53.3,211.7) rotate(-90)">band-pass filtered</text>
<text x="0" y="0" font-size="28.5" fill="#000" stroke="#000" text-anchor="middle" textLength="197.5" lengthAdjust="spacingAndGlyphs" transform="translate(85.8,211.7) rotate(-90)">elevation (cm)</text>
<text x="0" y="0" font-size="28.5" fill="#000" stroke="#000" text-anchor="middle" textLength="151.5" lengthAdjust="spacingAndGlyphs" transform="translate(21.4,669.9) rotate(-90)">4 - 15 days</text>
<text x="0" y="0" font-size="28.5" fill="#000" stroke="#000" text-anchor="middle" textLength="245.5" lengthAdjust="spacingAndGlyphs" transform="translate(53.3,669.9) rotate(-90)">band-pass filtered</text>
<text x="0" y="0" font-size="28.5" fill="#000" stroke="#000" text-anchor="middle" textLength="197.5" lengthAdjust="spacingAndGlyphs" transform="translate(85.8,669.9) rotate(-90)">elevation (cm)</text>
<text x="574.4" y="923.5" font-size="31" font-weight="normal" fill="#262626" stroke="#262626" text-anchor="start" textLength="206.5" lengthAdjust="spacingAndGlyphs" >Date in 2011</text>
</svg></body></html>
